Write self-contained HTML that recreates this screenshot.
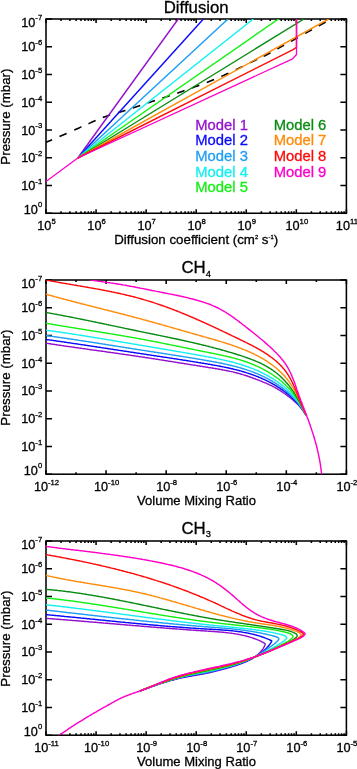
<!DOCTYPE html>
<html><head><meta charset="utf-8"><title>Diffusion models</title>
<style>
html,body{margin:0;padding:0;background:#fff;}
body{width:357px;height:769px;overflow:hidden;}
svg{display:block;will-change:transform;}
text{font-family:"Liberation Sans",sans-serif;stroke:#000;stroke-width:0.3px;}
.tk{font-size:12.7px;}
.sp{font-size:7.7px;}
.sp2{font-size:5.8px;}
.lb{font-size:13.3px;}
.tt{font-size:16.8px;}
.sb{font-size:9.3px;}
.lg{font-size:14.8px;}
</style></head><body>
<svg width="357" height="769" viewBox="0 0 357 769">
<rect width="100%" height="100%" fill="#fff"/>
<defs>
<clipPath id="c0"><rect x="46.00" y="19.00" width="300.40" height="194.25"/></clipPath>
<clipPath id="c1"><rect x="46.00" y="280.00" width="300.40" height="194.20"/></clipPath>
<clipPath id="c2"><rect x="46.00" y="541.00" width="300.40" height="194.20"/></clipPath>
</defs>
<path d="M46.00,213.25v-3.89 M46.00,19.00v3.89 M61.07,213.25v-1.94 M61.07,19.00v1.94 M69.89,213.25v-1.94 M69.89,19.00v1.94 M76.14,213.25v-1.94 M76.14,19.00v1.94 M81.00,213.25v-1.94 M81.00,19.00v1.94 M84.96,213.25v-1.94 M84.96,19.00v1.94 M88.31,213.25v-1.94 M88.31,19.00v1.94 M91.21,213.25v-1.94 M91.21,19.00v1.94 M93.78,213.25v-1.94 M93.78,19.00v1.94 M96.07,213.25v-3.89 M96.07,19.00v3.89 M111.14,213.25v-1.94 M111.14,19.00v1.94 M119.95,213.25v-1.94 M119.95,19.00v1.94 M126.21,213.25v-1.94 M126.21,19.00v1.94 M131.06,213.25v-1.94 M131.06,19.00v1.94 M135.03,213.25v-1.94 M135.03,19.00v1.94 M138.38,213.25v-1.94 M138.38,19.00v1.94 M141.28,213.25v-1.94 M141.28,19.00v1.94 M143.84,213.25v-1.94 M143.84,19.00v1.94 M146.13,213.25v-3.89 M146.13,19.00v3.89 M161.20,213.25v-1.94 M161.20,19.00v1.94 M170.02,213.25v-1.94 M170.02,19.00v1.94 M176.28,213.25v-1.94 M176.28,19.00v1.94 M181.13,213.25v-1.94 M181.13,19.00v1.94 M185.09,213.25v-1.94 M185.09,19.00v1.94 M188.44,213.25v-1.94 M188.44,19.00v1.94 M191.35,213.25v-1.94 M191.35,19.00v1.94 M193.91,213.25v-1.94 M193.91,19.00v1.94 M196.20,213.25v-3.89 M196.20,19.00v3.89 M211.27,213.25v-1.94 M211.27,19.00v1.94 M220.09,213.25v-1.94 M220.09,19.00v1.94 M226.34,213.25v-1.94 M226.34,19.00v1.94 M231.20,213.25v-1.94 M231.20,19.00v1.94 M235.16,213.25v-1.94 M235.16,19.00v1.94 M238.51,213.25v-1.94 M238.51,19.00v1.94 M241.41,213.25v-1.94 M241.41,19.00v1.94 M243.98,213.25v-1.94 M243.98,19.00v1.94 M246.27,213.25v-3.89 M246.27,19.00v3.89 M261.34,213.25v-1.94 M261.34,19.00v1.94 M270.15,213.25v-1.94 M270.15,19.00v1.94 M276.41,213.25v-1.94 M276.41,19.00v1.94 M281.26,213.25v-1.94 M281.26,19.00v1.94 M285.23,213.25v-1.94 M285.23,19.00v1.94 M288.58,213.25v-1.94 M288.58,19.00v1.94 M291.48,213.25v-1.94 M291.48,19.00v1.94 M294.04,213.25v-1.94 M294.04,19.00v1.94 M296.33,213.25v-3.89 M296.33,19.00v3.89 M311.40,213.25v-1.94 M311.40,19.00v1.94 M320.22,213.25v-1.94 M320.22,19.00v1.94 M326.48,213.25v-1.94 M326.48,19.00v1.94 M331.33,213.25v-1.94 M331.33,19.00v1.94 M335.29,213.25v-1.94 M335.29,19.00v1.94 M338.64,213.25v-1.94 M338.64,19.00v1.94 M341.55,213.25v-1.94 M341.55,19.00v1.94 M344.11,213.25v-1.94 M344.11,19.00v1.94 M346.40,213.25v-3.89 M346.40,19.00v3.89 M46.00,19.00h6.01 M346.40,19.00h-6.01 M46.00,46.75h6.01 M346.40,46.75h-6.01 M46.00,74.50h6.01 M346.40,74.50h-6.01 M46.00,102.25h6.01 M346.40,102.25h-6.01 M46.00,130.00h6.01 M346.40,130.00h-6.01 M46.00,157.75h6.01 M346.40,157.75h-6.01 M46.00,185.50h6.01 M346.40,185.50h-6.01 M46.00,213.25h6.01 M346.40,213.25h-6.01 " stroke="#000" stroke-width="1.55" fill="none"/>
<rect x="46.00" y="19.00" width="300.40" height="194.25" fill="none" stroke="#000" stroke-width="1.55"/>
<text x="46.50" y="230.15" class="tk" text-anchor="middle">10<tspan class="sp" dy="-6.2">5</tspan></text>
<text x="96.57" y="230.15" class="tk" text-anchor="middle">10<tspan class="sp" dy="-6.2">6</tspan></text>
<text x="146.63" y="230.15" class="tk" text-anchor="middle">10<tspan class="sp" dy="-6.2">7</tspan></text>
<text x="196.70" y="230.15" class="tk" text-anchor="middle">10<tspan class="sp" dy="-6.2">8</tspan></text>
<text x="246.77" y="230.15" class="tk" text-anchor="middle">10<tspan class="sp" dy="-6.2">9</tspan></text>
<text x="296.83" y="230.15" class="tk" text-anchor="middle">10<tspan class="sp" dy="-6.2">10</tspan></text>
<text x="346.90" y="230.15" class="tk" text-anchor="middle">10<tspan class="sp" dy="-6.2">11</tspan></text>
<text x="42.20" y="26.60" class="tk" text-anchor="end">10<tspan class="sp" dy="-6.2">-7</tspan></text>
<text x="42.20" y="51.25" class="tk" text-anchor="end">10<tspan class="sp" dy="-6.2">-6</tspan></text>
<text x="42.20" y="79.00" class="tk" text-anchor="end">10<tspan class="sp" dy="-6.2">-5</tspan></text>
<text x="42.20" y="106.75" class="tk" text-anchor="end">10<tspan class="sp" dy="-6.2">-4</tspan></text>
<text x="42.20" y="134.50" class="tk" text-anchor="end">10<tspan class="sp" dy="-6.2">-3</tspan></text>
<text x="42.20" y="162.25" class="tk" text-anchor="end">10<tspan class="sp" dy="-6.2">-2</tspan></text>
<text x="42.20" y="190.00" class="tk" text-anchor="end">10<tspan class="sp" dy="-6.2">-1</tspan></text>
<text x="42.20" y="213.65" class="tk" text-anchor="end">10<tspan class="sp" dy="-6.2">0</tspan></text>
<text transform="translate(9.6,116.62) rotate(-90)" class="lb" text-anchor="middle">Pressure (mbar)</text>
<path d="M46.00,474.20v-3.88 M46.00,280.00v3.88 M76.04,474.20v-1.94 M76.04,280.00v1.94 M106.08,474.20v-3.88 M106.08,280.00v3.88 M136.12,474.20v-1.94 M136.12,280.00v1.94 M166.16,474.20v-3.88 M166.16,280.00v3.88 M196.20,474.20v-1.94 M196.20,280.00v1.94 M226.24,474.20v-3.88 M226.24,280.00v3.88 M256.28,474.20v-1.94 M256.28,280.00v1.94 M286.32,474.20v-3.88 M286.32,280.00v3.88 M316.36,474.20v-1.94 M316.36,280.00v1.94 M346.40,474.20v-3.88 M346.40,280.00v3.88 M46.00,280.00h6.01 M346.40,280.00h-6.01 M46.00,307.74h6.01 M346.40,307.74h-6.01 M46.00,335.49h6.01 M346.40,335.49h-6.01 M46.00,363.23h6.01 M346.40,363.23h-6.01 M46.00,390.97h6.01 M346.40,390.97h-6.01 M46.00,418.71h6.01 M346.40,418.71h-6.01 M46.00,446.46h6.01 M346.40,446.46h-6.01 M46.00,474.20h6.01 M346.40,474.20h-6.01 " stroke="#000" stroke-width="1.55" fill="none"/>
<rect x="46.00" y="280.00" width="300.40" height="194.20" fill="none" stroke="#000" stroke-width="1.55"/>
<text x="46.50" y="491.10" class="tk" text-anchor="middle">10<tspan class="sp" dy="-6.2">-12</tspan></text>
<text x="106.58" y="491.10" class="tk" text-anchor="middle">10<tspan class="sp" dy="-6.2">-10</tspan></text>
<text x="166.66" y="491.10" class="tk" text-anchor="middle">10<tspan class="sp" dy="-6.2">-8</tspan></text>
<text x="226.74" y="491.10" class="tk" text-anchor="middle">10<tspan class="sp" dy="-6.2">-6</tspan></text>
<text x="286.82" y="491.10" class="tk" text-anchor="middle">10<tspan class="sp" dy="-6.2">-4</tspan></text>
<text x="346.90" y="491.10" class="tk" text-anchor="middle">10<tspan class="sp" dy="-6.2">-2</tspan></text>
<text x="42.20" y="287.60" class="tk" text-anchor="end">10<tspan class="sp" dy="-6.2">-7</tspan></text>
<text x="42.20" y="312.24" class="tk" text-anchor="end">10<tspan class="sp" dy="-6.2">-6</tspan></text>
<text x="42.20" y="339.99" class="tk" text-anchor="end">10<tspan class="sp" dy="-6.2">-5</tspan></text>
<text x="42.20" y="367.73" class="tk" text-anchor="end">10<tspan class="sp" dy="-6.2">-4</tspan></text>
<text x="42.20" y="395.47" class="tk" text-anchor="end">10<tspan class="sp" dy="-6.2">-3</tspan></text>
<text x="42.20" y="423.21" class="tk" text-anchor="end">10<tspan class="sp" dy="-6.2">-2</tspan></text>
<text x="42.20" y="450.96" class="tk" text-anchor="end">10<tspan class="sp" dy="-6.2">-1</tspan></text>
<text x="42.20" y="474.60" class="tk" text-anchor="end">10<tspan class="sp" dy="-6.2">0</tspan></text>
<text transform="translate(9.6,377.60) rotate(-90)" class="lb" text-anchor="middle">Pressure (mbar)</text>
<path d="M46.00,735.20v-3.88 M46.00,541.00v3.88 M61.07,735.20v-1.94 M61.07,541.00v1.94 M69.89,735.20v-1.94 M69.89,541.00v1.94 M76.14,735.20v-1.94 M76.14,541.00v1.94 M81.00,735.20v-1.94 M81.00,541.00v1.94 M84.96,735.20v-1.94 M84.96,541.00v1.94 M88.31,735.20v-1.94 M88.31,541.00v1.94 M91.21,735.20v-1.94 M91.21,541.00v1.94 M93.78,735.20v-1.94 M93.78,541.00v1.94 M96.07,735.20v-3.88 M96.07,541.00v3.88 M111.14,735.20v-1.94 M111.14,541.00v1.94 M119.95,735.20v-1.94 M119.95,541.00v1.94 M126.21,735.20v-1.94 M126.21,541.00v1.94 M131.06,735.20v-1.94 M131.06,541.00v1.94 M135.03,735.20v-1.94 M135.03,541.00v1.94 M138.38,735.20v-1.94 M138.38,541.00v1.94 M141.28,735.20v-1.94 M141.28,541.00v1.94 M143.84,735.20v-1.94 M143.84,541.00v1.94 M146.13,735.20v-3.88 M146.13,541.00v3.88 M161.20,735.20v-1.94 M161.20,541.00v1.94 M170.02,735.20v-1.94 M170.02,541.00v1.94 M176.28,735.20v-1.94 M176.28,541.00v1.94 M181.13,735.20v-1.94 M181.13,541.00v1.94 M185.09,735.20v-1.94 M185.09,541.00v1.94 M188.44,735.20v-1.94 M188.44,541.00v1.94 M191.35,735.20v-1.94 M191.35,541.00v1.94 M193.91,735.20v-1.94 M193.91,541.00v1.94 M196.20,735.20v-3.88 M196.20,541.00v3.88 M211.27,735.20v-1.94 M211.27,541.00v1.94 M220.09,735.20v-1.94 M220.09,541.00v1.94 M226.34,735.20v-1.94 M226.34,541.00v1.94 M231.20,735.20v-1.94 M231.20,541.00v1.94 M235.16,735.20v-1.94 M235.16,541.00v1.94 M238.51,735.20v-1.94 M238.51,541.00v1.94 M241.41,735.20v-1.94 M241.41,541.00v1.94 M243.98,735.20v-1.94 M243.98,541.00v1.94 M246.27,735.20v-3.88 M246.27,541.00v3.88 M261.34,735.20v-1.94 M261.34,541.00v1.94 M270.15,735.20v-1.94 M270.15,541.00v1.94 M276.41,735.20v-1.94 M276.41,541.00v1.94 M281.26,735.20v-1.94 M281.26,541.00v1.94 M285.23,735.20v-1.94 M285.23,541.00v1.94 M288.58,735.20v-1.94 M288.58,541.00v1.94 M291.48,735.20v-1.94 M291.48,541.00v1.94 M294.04,735.20v-1.94 M294.04,541.00v1.94 M296.33,735.20v-3.88 M296.33,541.00v3.88 M311.40,735.20v-1.94 M311.40,541.00v1.94 M320.22,735.20v-1.94 M320.22,541.00v1.94 M326.48,735.20v-1.94 M326.48,541.00v1.94 M331.33,735.20v-1.94 M331.33,541.00v1.94 M335.29,735.20v-1.94 M335.29,541.00v1.94 M338.64,735.20v-1.94 M338.64,541.00v1.94 M341.55,735.20v-1.94 M341.55,541.00v1.94 M344.11,735.20v-1.94 M344.11,541.00v1.94 M346.40,735.20v-3.88 M346.40,541.00v3.88 M46.00,541.00h6.01 M346.40,541.00h-6.01 M46.00,568.74h6.01 M346.40,568.74h-6.01 M46.00,596.49h6.01 M346.40,596.49h-6.01 M46.00,624.23h6.01 M346.40,624.23h-6.01 M46.00,651.97h6.01 M346.40,651.97h-6.01 M46.00,679.71h6.01 M346.40,679.71h-6.01 M46.00,707.46h6.01 M346.40,707.46h-6.01 M46.00,735.20h6.01 M346.40,735.20h-6.01 " stroke="#000" stroke-width="1.55" fill="none"/>
<rect x="46.00" y="541.00" width="300.40" height="194.20" fill="none" stroke="#000" stroke-width="1.55"/>
<text x="46.50" y="752.10" class="tk" text-anchor="middle">10<tspan class="sp" dy="-6.2">-11</tspan></text>
<text x="96.57" y="752.10" class="tk" text-anchor="middle">10<tspan class="sp" dy="-6.2">-10</tspan></text>
<text x="146.63" y="752.10" class="tk" text-anchor="middle">10<tspan class="sp" dy="-6.2">-9</tspan></text>
<text x="196.70" y="752.10" class="tk" text-anchor="middle">10<tspan class="sp" dy="-6.2">-8</tspan></text>
<text x="246.77" y="752.10" class="tk" text-anchor="middle">10<tspan class="sp" dy="-6.2">-7</tspan></text>
<text x="296.83" y="752.10" class="tk" text-anchor="middle">10<tspan class="sp" dy="-6.2">-6</tspan></text>
<text x="346.90" y="752.10" class="tk" text-anchor="middle">10<tspan class="sp" dy="-6.2">-5</tspan></text>
<text x="42.20" y="548.60" class="tk" text-anchor="end">10<tspan class="sp" dy="-6.2">-7</tspan></text>
<text x="42.20" y="573.24" class="tk" text-anchor="end">10<tspan class="sp" dy="-6.2">-6</tspan></text>
<text x="42.20" y="600.99" class="tk" text-anchor="end">10<tspan class="sp" dy="-6.2">-5</tspan></text>
<text x="42.20" y="628.73" class="tk" text-anchor="end">10<tspan class="sp" dy="-6.2">-4</tspan></text>
<text x="42.20" y="656.47" class="tk" text-anchor="end">10<tspan class="sp" dy="-6.2">-3</tspan></text>
<text x="42.20" y="684.21" class="tk" text-anchor="end">10<tspan class="sp" dy="-6.2">-2</tspan></text>
<text x="42.20" y="711.96" class="tk" text-anchor="end">10<tspan class="sp" dy="-6.2">-1</tspan></text>
<text x="42.20" y="735.60" class="tk" text-anchor="end">10<tspan class="sp" dy="-6.2">0</tspan></text>
<text transform="translate(9.6,638.60) rotate(-90)" class="lb" text-anchor="middle">Pressure (mbar)</text>
<path d="M44.90,142.74 46.11,142.26 47.31,141.76 48.51,141.27 49.71,140.76 50.91,140.26 52.10,139.75 M59.50,136.58 60.69,136.06 61.89,135.54 63.08,135.03 64.27,134.51 65.46,133.99 66.65,133.47 M74.30,130.08 75.48,129.54 76.67,129.00 77.85,128.46 79.03,127.92 80.21,127.38 81.40,126.84 M88.50,123.65 89.69,123.13 90.89,122.62 92.08,122.10 93.27,121.59 94.47,121.07 95.66,120.56 M102.80,117.58 104.01,117.11 105.23,116.65 106.45,116.20 107.67,115.77 108.90,115.35 110.14,114.95 M118.00,112.66 119.25,112.30 120.50,111.94 121.74,111.56 122.98,111.17 124.22,110.78 125.46,110.38 M132.80,107.97 134.03,107.56 135.27,107.15 136.50,106.74 137.73,106.32 138.96,105.91 140.19,105.49 M147.60,103.00 148.83,102.59 150.07,102.18 151.30,101.77 152.53,101.36 153.77,100.95 155.00,100.54 M162.40,98.12 163.64,97.71 164.87,97.31 166.10,96.90 167.34,96.49 168.57,96.08 169.81,95.67 M177.20,93.17 178.43,92.75 179.66,92.32 180.88,91.89 182.11,91.46 183.33,91.02 184.56,90.59 M192.00,87.92 193.22,87.47 194.44,87.03 195.66,86.58 196.88,86.13 198.10,85.68 199.32,85.22 M206.80,82.38 208.01,81.91 209.22,81.43 210.43,80.95 211.64,80.47 212.84,79.98 214.04,79.49 M221.30,76.41 222.49,75.89 223.68,75.36 224.87,74.84 226.06,74.30 227.24,73.77 228.42,73.23 M235.80,69.75 236.97,69.19 238.15,68.63 239.32,68.06 240.49,67.50 241.65,66.93 242.82,66.35 M250.20,62.72 251.37,62.15 252.54,61.58 253.71,61.01 254.88,60.45 256.05,59.89 257.23,59.34 M263.60,56.32 264.77,55.74 265.93,55.16 267.08,54.56 268.23,53.95 269.38,53.34 270.52,52.72 M277.30,48.90 278.43,48.26 279.57,47.62 280.70,46.99 281.84,46.36 282.98,45.73 284.11,45.11 M290.90,41.34 292.04,40.71 293.17,40.08 294.31,39.45 295.45,38.82 296.59,38.19 297.72,37.56 M305.20,33.42 306.34,32.79 307.47,32.16 308.61,31.53 309.75,30.90 310.89,30.27 312.02,29.64 M318.80,25.88 319.94,25.25 321.07,24.62 322.21,23.99 323.35,23.36 324.49,22.73 325.62,22.10 M332.80,18.12 333.94,17.49 335.07,16.86 336.21,16.23 337.35,15.60 338.49,14.97 339.62,14.34 " stroke="#000" stroke-width="1.60" fill="none" stroke-linejoin="round" clip-path="url(#c0)" />
<path d="M77.80,158.00 L178.20,19.00" stroke="#9410CE" stroke-width="1.45" fill="none" stroke-linejoin="round" clip-path="url(#c0)" />
<path d="M77.80,158.00 L203.40,19.00" stroke="#0A0AFF" stroke-width="1.45" fill="none" stroke-linejoin="round" clip-path="url(#c0)" />
<path d="M77.80,158.00 L228.00,19.00" stroke="#1E9EF5" stroke-width="1.45" fill="none" stroke-linejoin="round" clip-path="url(#c0)" />
<path d="M77.80,158.00 L253.30,19.00" stroke="#14F0F0" stroke-width="1.45" fill="none" stroke-linejoin="round" clip-path="url(#c0)" />
<path d="M77.80,158.00 L278.50,19.00" stroke="#14F014" stroke-width="1.45" fill="none" stroke-linejoin="round" clip-path="url(#c0)" />
<path d="M77.80,158.00 L304.00,19.00" stroke="#0A8C14" stroke-width="1.45" fill="none" stroke-linejoin="round" clip-path="url(#c0)" />
<path d="M77.80,158.00 L328.60,19.00" stroke="#FF8C0A" stroke-width="1.45" fill="none" stroke-linejoin="round" clip-path="url(#c0)" />
<path d="M77.80,158.00 L292.60,49.78 L296.50,47.30 L296.50,19.00" stroke="#FF0A0A" stroke-width="1.45" fill="none" stroke-linejoin="round" clip-path="url(#c0)" />
<path d="M45.50,181.85 L77.80,158.00 L292.60,58.81 L296.50,54.50 L296.50,18.00" stroke="#FF00C8" stroke-width="1.30" fill="none" stroke-linejoin="round" clip-path="url(#c0)" />
<path d="M40.0,342.2 40.7,342.3 41.5,342.5 42.2,342.6 43.0,342.7 43.7,342.8 44.5,342.9 45.2,343.0 46.0,343.2 46.7,343.3 47.4,343.4 48.2,343.5 48.9,343.6 49.7,343.7 50.4,343.8 51.2,344.0 51.9,344.1 52.7,344.2 53.4,344.3 54.1,344.4 54.9,344.5 55.6,344.6 56.4,344.7 57.1,344.9 57.9,345.0 58.6,345.1 59.4,345.2 60.1,345.3 60.9,345.4 61.6,345.5 62.3,345.6 63.1,345.7 63.8,345.8 64.6,346.0 65.3,346.1 66.1,346.2 66.8,346.3 67.6,346.4 68.3,346.5 69.1,346.6 69.8,346.7 70.5,346.8 71.3,346.9 72.0,347.0 72.8,347.1 73.5,347.2 74.3,347.3 75.0,347.5 75.8,347.6 76.5,347.7 77.3,347.8 78.0,347.9 78.8,348.0 79.5,348.1 80.2,348.2 81.0,348.3 81.7,348.4 82.5,348.5 83.2,348.6 84.0,348.7 84.7,348.8 85.5,348.9 86.2,349.0 87.0,349.1 87.7,349.2 88.4,349.4 89.2,349.5 89.9,349.6 90.7,349.7 91.4,349.8 92.2,349.9 92.9,350.0 93.7,350.1 94.4,350.2 95.2,350.3 95.9,350.4 96.7,350.5 97.4,350.6 98.1,350.7 98.9,350.8 99.6,350.9 100.4,351.0 101.1,351.1 101.9,351.2 102.6,351.3 103.4,351.4 104.1,351.5 104.9,351.6 105.6,351.7 106.4,351.9 107.1,352.0 107.8,352.1 108.6,352.2 109.3,352.3 110.1,352.4 110.8,352.5 111.6,352.6 112.3,352.7 113.1,352.8 113.8,352.9 114.6,353.0 115.3,353.1 116.1,353.2 116.8,353.3 117.5,353.4 118.3,353.5 119.0,353.6 119.8,353.7 120.5,353.9 121.3,354.0 122.0,354.1 122.8,354.2 123.5,354.3 124.3,354.4 125.0,354.5 125.8,354.6 126.5,354.7 127.2,354.8 128.0,354.9 128.7,355.0 129.5,355.1 130.2,355.2 131.0,355.4 131.7,355.5 132.5,355.6 133.2,355.7 134.0,355.8 134.7,355.9 135.4,356.0 136.2,356.1 136.9,356.2 137.7,356.3 138.4,356.5 139.2,356.6 139.9,356.7 140.7,356.8 141.4,356.9 142.2,357.0 142.9,357.1 143.6,357.2 144.4,357.3 145.1,357.5 145.9,357.6 146.6,357.7 147.4,357.8 148.1,357.9 148.9,358.0 149.6,358.1 150.4,358.3 151.1,358.4 151.8,358.5 152.6,358.6 153.3,358.7 154.1,358.8 154.8,358.9 155.6,359.1 156.3,359.2 157.1,359.3 157.8,359.4 158.5,359.5 159.3,359.6 160.0,359.8 160.8,359.9 161.5,360.0 162.3,360.1 163.0,360.2 163.8,360.3 164.5,360.5 165.2,360.6 166.0,360.7 166.7,360.8 167.5,360.9 168.2,361.1 169.0,361.2 169.7,361.3 170.5,361.4 171.2,361.5 171.9,361.6 172.7,361.8 173.4,361.9 174.2,362.0 174.9,362.1 175.7,362.2 176.4,362.4 177.2,362.5 177.9,362.6 178.6,362.7 179.4,362.8 180.1,363.0 180.9,363.1 181.6,363.2 182.4,363.3 183.1,363.4 183.8,363.5 184.6,363.7 185.3,363.8 186.1,363.9 186.8,364.0 187.6,364.1 188.3,364.3 189.1,364.4 189.8,364.5 190.5,364.6 191.3,364.7 192.0,364.9 192.8,365.0 193.5,365.1 194.3,365.2 195.0,365.3 195.8,365.4 196.5,365.6 197.2,365.7 198.0,365.8 198.7,365.9 199.5,366.0 200.2,366.2 201.0,366.3 201.7,366.4 202.4,366.5 203.2,366.6 203.9,366.7 204.7,366.9 205.4,367.0 206.2,367.1 206.9,367.2 207.7,367.3 208.4,367.5 209.1,367.6 209.9,367.7 210.6,367.8 211.4,367.9 212.1,368.0 212.9,368.2 213.6,368.3 214.3,368.4 215.1,368.5 215.8,368.7 216.6,368.8 217.3,368.9 218.1,369.0 218.8,369.2 219.5,369.3 220.3,369.4 221.0,369.5 221.8,369.7 222.5,369.8 223.2,370.0 224.0,370.1 224.7,370.2 225.4,370.4 226.2,370.5 226.9,370.7 227.6,370.8 228.4,371.0 229.1,371.1 229.8,371.3 230.6,371.4 231.3,371.6 232.0,371.8 232.8,371.9 233.5,372.1 234.2,372.3 234.9,372.5 235.7,372.6 236.4,372.8 237.1,373.0 237.8,373.2 238.6,373.4 239.3,373.6 240.0,373.8 240.7,374.0 241.4,374.2 242.2,374.4 242.9,374.6 243.6,374.9 244.3,375.1 245.0,375.3 245.7,375.5 246.4,375.8 247.2,376.0 247.9,376.2 248.6,376.5 249.3,376.7 250.0,377.0 250.7,377.2 251.4,377.5 252.1,377.7 252.8,378.0 253.5,378.2 254.2,378.5 254.9,378.8 255.6,379.0 256.3,379.3 257.0,379.6 257.7,379.8 258.4,380.1 259.1,380.4 259.8,380.7 260.5,380.9 261.2,381.2 261.9,381.5 262.6,381.8 263.3,382.1 264.0,382.4 264.7,382.7 265.4,382.9 266.1,383.2 266.8,383.5 267.5,383.8 268.2,384.1 268.9,384.4 269.6,384.8 270.2,385.1 270.9,385.4 271.6,385.7 272.3,386.1 272.9,386.4 273.6,386.8 274.3,387.1 274.9,387.5 275.6,387.9 276.2,388.2 276.9,388.6 277.5,389.0 278.2,389.4 278.8,389.8 279.4,390.1 280.1,390.5 280.7,390.9 281.3,391.4 282.0,391.8 282.6,392.2 283.2,392.6 283.8,393.0 284.5,393.5 285.1,393.9 285.7,394.3 286.3,394.8 286.9,395.2 287.5,395.7 288.1,396.1 288.7,396.6 289.3,397.0 289.9,397.5 290.5,398.0 291.1,398.5 291.7,398.9 292.3,399.4 292.9,399.9 293.5,400.4 294.0,400.9 294.6,401.4 295.2,401.9 295.7,402.4 296.3,402.9 296.8,403.4 297.4,404.0 297.9,404.5 298.4,405.0 299.0,405.6 299.5,406.1 300.0,406.7 300.5,407.3 301.0,407.8 301.4,408.4 301.9,409.0 302.4,409.6 302.8,410.2 303.3,410.8 303.7,411.4 304.1,412.0 304.5,412.6 304.9,413.3 305.3,413.9 305.7,414.6 306.0,415.2" stroke="#9410CE" stroke-width="1.45" fill="none" stroke-linejoin="round" clip-path="url(#c1)" />
<path d="M40.0,338.6 40.7,338.7 41.5,338.8 42.2,338.9 43.0,339.0 43.7,339.1 44.5,339.2 45.3,339.3 46.0,339.4 46.8,339.6 47.5,339.7 48.3,339.8 49.0,339.9 49.8,340.0 50.5,340.1 51.3,340.2 52.0,340.3 52.8,340.4 53.5,340.5 54.3,340.6 55.0,340.7 55.8,340.8 56.5,341.0 57.3,341.1 58.0,341.2 58.8,341.3 59.5,341.4 60.3,341.5 61.0,341.6 61.8,341.7 62.5,341.8 63.3,341.9 64.0,342.0 64.8,342.2 65.5,342.3 66.3,342.4 67.0,342.5 67.8,342.6 68.5,342.7 69.3,342.8 70.0,342.9 70.8,343.0 71.5,343.1 72.3,343.3 73.0,343.4 73.8,343.5 74.5,343.6 75.3,343.7 76.0,343.8 76.8,343.9 77.5,344.0 78.3,344.1 79.0,344.3 79.8,344.4 80.5,344.5 81.3,344.6 82.0,344.7 82.8,344.8 83.5,344.9 84.3,345.0 85.0,345.2 85.8,345.3 86.5,345.4 87.3,345.5 88.0,345.6 88.8,345.7 89.5,345.8 90.3,345.9 91.0,346.1 91.8,346.2 92.5,346.3 93.3,346.4 94.0,346.5 94.8,346.6 95.5,346.7 96.3,346.8 97.0,347.0 97.8,347.1 98.5,347.2 99.3,347.3 100.0,347.4 100.8,347.5 101.5,347.6 102.3,347.8 103.0,347.9 103.8,348.0 104.5,348.1 105.3,348.2 106.0,348.3 106.8,348.4 107.5,348.5 108.3,348.7 109.0,348.8 109.8,348.9 110.5,349.0 111.3,349.1 112.0,349.2 112.7,349.3 113.5,349.5 114.2,349.6 115.0,349.7 115.7,349.8 116.5,349.9 117.2,350.0 118.0,350.1 118.7,350.3 119.5,350.4 120.2,350.5 121.0,350.6 121.7,350.7 122.5,350.8 123.2,350.9 124.0,351.1 124.7,351.2 125.5,351.3 126.2,351.4 127.0,351.5 127.7,351.6 128.5,351.7 129.2,351.9 130.0,352.0 130.7,352.1 131.5,352.2 132.2,352.3 133.0,352.4 133.7,352.5 134.5,352.7 135.2,352.8 136.0,352.9 136.7,353.0 137.5,353.1 138.2,353.2 139.0,353.3 139.7,353.4 140.5,353.6 141.2,353.7 142.0,353.8 142.7,353.9 143.5,354.0 144.2,354.1 145.0,354.2 145.7,354.4 146.5,354.5 147.2,354.6 148.0,354.7 148.7,354.8 149.5,354.9 150.2,355.0 151.0,355.1 151.7,355.3 152.5,355.4 153.2,355.5 154.0,355.6 154.7,355.7 155.5,355.8 156.2,355.9 157.0,356.1 157.7,356.2 158.5,356.3 159.2,356.4 160.0,356.5 160.7,356.6 161.5,356.7 162.2,356.8 163.0,357.0 163.7,357.1 164.5,357.2 165.2,357.3 166.0,357.4 166.7,357.5 167.5,357.6 168.2,357.8 169.0,357.9 169.7,358.0 170.5,358.1 171.2,358.2 172.0,358.3 172.7,358.4 173.5,358.6 174.2,358.7 175.0,358.8 175.7,358.9 176.5,359.0 177.2,359.1 178.0,359.3 178.7,359.4 179.5,359.5 180.2,359.6 181.0,359.7 181.7,359.8 182.5,360.0 183.2,360.1 184.0,360.2 184.7,360.3 185.5,360.4 186.2,360.5 187.0,360.7 187.7,360.8 188.5,360.9 189.2,361.0 189.9,361.1 190.7,361.3 191.4,361.4 192.2,361.5 192.9,361.6 193.7,361.7 194.4,361.9 195.2,362.0 195.9,362.1 196.7,362.2 197.4,362.3 198.2,362.5 198.9,362.6 199.7,362.7 200.4,362.8 201.1,363.0 201.9,363.1 202.6,363.2 203.4,363.3 204.1,363.4 204.9,363.6 205.6,363.7 206.4,363.8 207.1,363.9 207.9,364.1 208.6,364.2 209.3,364.3 210.1,364.4 210.8,364.6 211.6,364.7 212.3,364.8 213.1,365.0 213.8,365.1 214.5,365.2 215.3,365.4 216.0,365.5 216.8,365.6 217.5,365.8 218.3,365.9 219.0,366.0 219.7,366.2 220.5,366.3 221.2,366.5 222.0,366.6 222.7,366.8 223.4,366.9 224.2,367.1 224.9,367.2 225.7,367.4 226.4,367.5 227.1,367.7 227.9,367.8 228.6,368.0 229.4,368.2 230.1,368.3 230.8,368.5 231.6,368.7 232.3,368.8 233.0,369.0 233.8,369.2 234.5,369.4 235.2,369.6 236.0,369.7 236.7,369.9 237.4,370.1 238.2,370.3 238.9,370.5 239.6,370.7 240.4,370.9 241.1,371.1 241.8,371.3 242.6,371.5 243.3,371.7 244.0,372.0 244.8,372.2 245.5,372.4 246.2,372.6 246.9,372.9 247.7,373.1 248.4,373.3 249.1,373.6 249.8,373.8 250.6,374.1 251.3,374.3 252.0,374.6 252.7,374.8 253.4,375.1 254.2,375.3 254.9,375.6 255.6,375.9 256.3,376.2 257.0,376.4 257.7,376.7 258.4,377.0 259.1,377.3 259.8,377.6 260.5,377.9 261.2,378.2 261.9,378.5 262.6,378.8 263.3,379.1 264.0,379.4 264.7,379.7 265.4,380.1 266.1,380.4 266.7,380.7 267.4,381.1 268.1,381.4 268.8,381.7 269.5,382.1 270.1,382.4 270.8,382.8 271.5,383.2 272.1,383.5 272.8,383.9 273.4,384.3 274.1,384.6 274.8,385.0 275.4,385.4 276.1,385.8 276.7,386.2 277.3,386.6 278.0,387.0 278.6,387.4 279.2,387.8 279.9,388.2 280.5,388.6 281.1,389.1 281.7,389.5 282.4,389.9 283.0,390.4 283.6,390.8 284.2,391.3 284.8,391.7 285.4,392.2 286.0,392.6 286.6,393.1 287.2,393.6 287.7,394.0 288.3,394.5 288.9,395.0 289.5,395.5 290.0,396.0 290.6,396.5 291.2,397.0 291.7,397.5 292.3,398.0 292.8,398.6 293.4,399.1 293.9,399.6 294.4,400.2 294.9,400.7 295.5,401.2 296.0,401.8 296.5,402.3 297.0,402.9 297.5,403.5 298.0,404.0 298.5,404.6 299.0,405.2 299.5,405.8 299.9,406.4 300.4,407.0 300.9,407.6 301.3,408.2 301.8,408.8 302.2,409.4 302.6,410.0 303.1,410.6 303.5,411.2 303.9,411.9 304.3,412.5 304.7,413.1 305.1,413.8 305.5,414.4 305.9,415.1" stroke="#0A0AFF" stroke-width="1.45" fill="none" stroke-linejoin="round" clip-path="url(#c1)" />
<path d="M40.0,334.7 40.8,334.8 41.5,334.9 42.3,335.0 43.0,335.1 43.8,335.2 44.5,335.3 45.3,335.4 46.0,335.5 46.8,335.6 47.6,335.7 48.3,335.9 49.1,336.0 49.8,336.1 50.6,336.2 51.3,336.3 52.1,336.4 52.8,336.5 53.6,336.6 54.4,336.7 55.1,336.8 55.9,336.9 56.6,337.0 57.4,337.1 58.1,337.2 58.9,337.3 59.6,337.4 60.4,337.6 61.2,337.7 61.9,337.8 62.7,337.9 63.4,338.0 64.2,338.1 64.9,338.2 65.7,338.3 66.4,338.4 67.2,338.5 67.9,338.7 68.7,338.8 69.5,338.9 70.2,339.0 71.0,339.1 71.7,339.2 72.5,339.3 73.2,339.4 74.0,339.6 74.7,339.7 75.5,339.8 76.3,339.9 77.0,340.0 77.8,340.1 78.5,340.2 79.3,340.4 80.0,340.5 80.8,340.6 81.5,340.7 82.3,340.8 83.1,340.9 83.8,341.0 84.6,341.2 85.3,341.3 86.1,341.4 86.8,341.5 87.6,341.6 88.3,341.7 89.1,341.9 89.9,342.0 90.6,342.1 91.4,342.2 92.1,342.3 92.9,342.4 93.6,342.6 94.4,342.7 95.1,342.8 95.9,342.9 96.7,343.0 97.4,343.2 98.2,343.3 98.9,343.4 99.7,343.5 100.4,343.6 101.2,343.7 101.9,343.9 102.7,344.0 103.4,344.1 104.2,344.2 105.0,344.3 105.7,344.5 106.5,344.6 107.2,344.7 108.0,344.8 108.7,344.9 109.5,345.1 110.2,345.2 111.0,345.3 111.8,345.4 112.5,345.5 113.3,345.7 114.0,345.8 114.8,345.9 115.5,346.0 116.3,346.1 117.0,346.3 117.8,346.4 118.5,346.5 119.3,346.6 120.1,346.7 120.8,346.9 121.6,347.0 122.3,347.1 123.1,347.2 123.8,347.3 124.6,347.4 125.3,347.6 126.1,347.7 126.8,347.8 127.6,347.9 128.4,348.0 129.1,348.2 129.9,348.3 130.6,348.4 131.4,348.5 132.1,348.6 132.9,348.8 133.6,348.9 134.4,349.0 135.1,349.1 135.9,349.2 136.6,349.4 137.4,349.5 138.2,349.6 138.9,349.7 139.7,349.8 140.4,349.9 141.2,350.1 141.9,350.2 142.7,350.3 143.4,350.4 144.2,350.5 144.9,350.6 145.7,350.8 146.4,350.9 147.2,351.0 148.0,351.1 148.7,351.2 149.5,351.3 150.2,351.5 151.0,351.6 151.7,351.7 152.5,351.8 153.2,351.9 154.0,352.0 154.7,352.2 155.5,352.3 156.2,352.4 157.0,352.5 157.7,352.6 158.5,352.7 159.3,352.9 160.0,353.0 160.8,353.1 161.5,353.2 162.3,353.3 163.0,353.4 163.8,353.6 164.5,353.7 165.3,353.8 166.0,353.9 166.8,354.0 167.5,354.1 168.3,354.3 169.0,354.4 169.8,354.5 170.5,354.6 171.3,354.7 172.1,354.9 172.8,355.0 173.6,355.1 174.3,355.2 175.1,355.3 175.8,355.4 176.6,355.6 177.3,355.7 178.1,355.8 178.8,355.9 179.6,356.0 180.3,356.2 181.1,356.3 181.8,356.4 182.6,356.5 183.3,356.6 184.1,356.8 184.8,356.9 185.6,357.0 186.3,357.1 187.1,357.2 187.9,357.4 188.6,357.5 189.4,357.6 190.1,357.7 190.9,357.9 191.6,358.0 192.4,358.1 193.1,358.2 193.9,358.4 194.6,358.5 195.4,358.6 196.1,358.7 196.9,358.9 197.6,359.0 198.4,359.1 199.1,359.2 199.9,359.4 200.6,359.5 201.4,359.6 202.1,359.7 202.9,359.9 203.6,360.0 204.4,360.1 205.1,360.3 205.9,360.4 206.7,360.5 207.4,360.7 208.2,360.8 208.9,360.9 209.7,361.1 210.4,361.2 211.2,361.3 211.9,361.5 212.7,361.6 213.4,361.7 214.2,361.9 214.9,362.0 215.7,362.2 216.4,362.3 217.2,362.4 217.9,362.6 218.7,362.7 219.4,362.9 220.2,363.0 220.9,363.2 221.7,363.3 222.4,363.5 223.2,363.6 223.9,363.8 224.7,364.0 225.4,364.1 226.1,364.3 226.9,364.4 227.6,364.6 228.4,364.8 229.1,365.0 229.9,365.1 230.6,365.3 231.4,365.5 232.1,365.7 232.8,365.9 233.6,366.0 234.3,366.2 235.1,366.4 235.8,366.6 236.5,366.8 237.3,367.0 238.0,367.2 238.8,367.4 239.5,367.6 240.2,367.8 241.0,368.1 241.7,368.3 242.4,368.5 243.2,368.7 243.9,368.9 244.6,369.2 245.4,369.4 246.1,369.7 246.8,369.9 247.5,370.1 248.3,370.4 249.0,370.6 249.7,370.9 250.4,371.1 251.2,371.4 251.9,371.7 252.6,371.9 253.3,372.2 254.0,372.5 254.7,372.8 255.5,373.1 256.2,373.3 256.9,373.6 257.6,373.9 258.3,374.2 259.0,374.5 259.7,374.8 260.4,375.1 261.1,375.5 261.8,375.8 262.5,376.1 263.2,376.4 263.8,376.7 264.5,377.1 265.2,377.4 265.9,377.8 266.6,378.1 267.3,378.4 267.9,378.8 268.6,379.2 269.3,379.5 269.9,379.9 270.6,380.3 271.3,380.6 271.9,381.0 272.6,381.4 273.2,381.8 273.9,382.2 274.5,382.6 275.2,383.0 275.8,383.4 276.4,383.8 277.1,384.2 277.7,384.6 278.3,385.0 279.0,385.5 279.6,385.9 280.2,386.3 280.8,386.8 281.4,387.2 282.0,387.7 282.6,388.1 283.2,388.6 283.8,389.0 284.4,389.5 285.0,390.0 285.6,390.5 286.2,390.9 286.7,391.4 287.3,391.9 287.9,392.4 288.4,392.9 289.0,393.4 289.6,393.9 290.1,394.5 290.7,395.0 291.2,395.5 291.7,396.1 292.3,396.6 292.8,397.1 293.3,397.7 293.8,398.2 294.4,398.8 294.9,399.4 295.4,399.9 295.9,400.5 296.4,401.1 296.9,401.6 297.3,402.2 297.8,402.8 298.3,403.4 298.8,404.0 299.2,404.6 299.7,405.2 300.1,405.8 300.6,406.5 301.0,407.1 301.5,407.7 301.9,408.3 302.3,409.0 302.7,409.6 303.2,410.3 303.6,410.9 304.0,411.6 304.4,412.2 304.8,412.9 305.1,413.5 305.5,414.2 305.9,414.9" stroke="#1E9EF5" stroke-width="1.45" fill="none" stroke-linejoin="round" clip-path="url(#c1)" />
<path d="M40.0,329.3 40.8,329.4 41.5,329.5 42.3,329.6 43.0,329.7 43.8,329.8 44.6,329.9 45.3,330.0 46.1,330.1 46.9,330.3 47.6,330.4 48.4,330.5 49.1,330.6 49.9,330.7 50.7,330.8 51.4,330.9 52.2,331.0 53.0,331.1 53.7,331.2 54.5,331.3 55.2,331.4 56.0,331.6 56.8,331.7 57.5,331.8 58.3,331.9 59.0,332.0 59.8,332.1 60.6,332.2 61.3,332.3 62.1,332.4 62.9,332.6 63.6,332.7 64.4,332.8 65.1,332.9 65.9,333.0 66.7,333.1 67.4,333.2 68.2,333.4 68.9,333.5 69.7,333.6 70.5,333.7 71.2,333.8 72.0,333.9 72.8,334.1 73.5,334.2 74.3,334.3 75.0,334.4 75.8,334.5 76.6,334.6 77.3,334.8 78.1,334.9 78.8,335.0 79.6,335.1 80.4,335.2 81.1,335.4 81.9,335.5 82.7,335.6 83.4,335.7 84.2,335.8 84.9,336.0 85.7,336.1 86.5,336.2 87.2,336.3 88.0,336.5 88.7,336.6 89.5,336.7 90.3,336.8 91.0,336.9 91.8,337.1 92.6,337.2 93.3,337.3 94.1,337.4 94.8,337.6 95.6,337.7 96.4,337.8 97.1,337.9 97.9,338.1 98.6,338.2 99.4,338.3 100.2,338.4 100.9,338.6 101.7,338.7 102.4,338.8 103.2,338.9 104.0,339.1 104.7,339.2 105.5,339.3 106.2,339.4 107.0,339.6 107.8,339.7 108.5,339.8 109.3,339.9 110.1,340.1 110.8,340.2 111.6,340.3 112.3,340.5 113.1,340.6 113.9,340.7 114.6,340.8 115.4,341.0 116.1,341.1 116.9,341.2 117.7,341.3 118.4,341.5 119.2,341.6 119.9,341.7 120.7,341.9 121.5,342.0 122.2,342.1 123.0,342.2 123.7,342.4 124.5,342.5 125.2,342.6 126.0,342.7 126.8,342.9 127.5,343.0 128.3,343.1 129.0,343.3 129.8,343.4 130.6,343.5 131.3,343.6 132.1,343.8 132.8,343.9 133.6,344.0 134.4,344.2 135.1,344.3 135.9,344.4 136.6,344.5 137.4,344.7 138.2,344.8 138.9,344.9 139.7,345.1 140.4,345.2 141.2,345.3 141.9,345.4 142.7,345.6 143.5,345.7 144.2,345.8 145.0,345.9 145.7,346.1 146.5,346.2 147.3,346.3 148.0,346.5 148.8,346.6 149.5,346.7 150.3,346.8 151.0,347.0 151.8,347.1 152.6,347.2 153.3,347.4 154.1,347.5 154.8,347.6 155.6,347.7 156.3,347.9 157.1,348.0 157.9,348.1 158.6,348.3 159.4,348.4 160.1,348.5 160.9,348.6 161.7,348.8 162.4,348.9 163.2,349.0 163.9,349.2 164.7,349.3 165.4,349.4 166.2,349.5 167.0,349.7 167.7,349.8 168.5,349.9 169.2,350.1 170.0,350.2 170.7,350.3 171.5,350.4 172.3,350.6 173.0,350.7 173.8,350.8 174.5,351.0 175.3,351.1 176.0,351.2 176.8,351.4 177.6,351.5 178.3,351.6 179.1,351.7 179.8,351.9 180.6,352.0 181.3,352.1 182.1,352.3 182.9,352.4 183.6,352.5 184.4,352.7 185.1,352.8 185.9,352.9 186.6,353.1 187.4,353.2 188.2,353.3 188.9,353.5 189.7,353.6 190.4,353.7 191.2,353.9 192.0,354.0 192.7,354.1 193.5,354.3 194.2,354.4 195.0,354.5 195.7,354.7 196.5,354.8 197.3,355.0 198.0,355.1 198.8,355.2 199.5,355.4 200.3,355.5 201.1,355.6 201.8,355.8 202.6,355.9 203.3,356.1 204.1,356.2 204.8,356.3 205.6,356.5 206.4,356.6 207.1,356.8 207.9,356.9 208.6,357.0 209.4,357.2 210.2,357.3 210.9,357.5 211.7,357.6 212.4,357.8 213.2,357.9 214.0,358.0 214.7,358.2 215.5,358.3 216.2,358.5 217.0,358.6 217.7,358.8 218.5,358.9 219.3,359.1 220.0,359.3 220.8,359.4 221.5,359.6 222.3,359.7 223.0,359.9 223.8,360.1 224.5,360.2 225.3,360.4 226.1,360.6 226.8,360.8 227.6,360.9 228.3,361.1 229.1,361.3 229.8,361.5 230.6,361.7 231.3,361.8 232.1,362.0 232.8,362.2 233.6,362.4 234.3,362.6 235.0,362.8 235.8,363.0 236.5,363.2 237.3,363.4 238.0,363.7 238.8,363.9 239.5,364.1 240.2,364.3 241.0,364.5 241.7,364.8 242.5,365.0 243.2,365.2 243.9,365.5 244.7,365.7 245.4,366.0 246.1,366.2 246.9,366.5 247.6,366.7 248.3,367.0 249.0,367.2 249.8,367.5 250.5,367.8 251.2,368.1 251.9,368.3 252.6,368.6 253.4,368.9 254.1,369.2 254.8,369.5 255.5,369.8 256.2,370.1 256.9,370.4 257.6,370.7 258.3,371.0 259.0,371.3 259.7,371.6 260.4,372.0 261.1,372.3 261.8,372.6 262.5,373.0 263.2,373.3 263.9,373.7 264.5,374.0 265.2,374.4 265.9,374.7 266.6,375.1 267.2,375.4 267.9,375.8 268.6,376.2 269.2,376.6 269.9,377.0 270.6,377.3 271.2,377.7 271.9,378.1 272.5,378.5 273.2,378.9 273.8,379.3 274.4,379.8 275.1,380.2 275.7,380.6 276.3,381.0 277.0,381.5 277.6,381.9 278.2,382.3 278.8,382.8 279.4,383.2 280.0,383.7 280.6,384.2 281.2,384.6 281.8,385.1 282.4,385.6 283.0,386.1 283.6,386.5 284.2,387.0 284.8,387.5 285.3,388.0 285.9,388.5 286.5,389.1 287.0,389.6 287.6,390.1 288.1,390.6 288.7,391.1 289.2,391.7 289.8,392.2 290.3,392.8 290.8,393.3 291.3,393.9 291.9,394.4 292.4,395.0 292.9,395.6 293.4,396.2 293.9,396.7 294.4,397.3 294.9,397.9 295.4,398.5 295.9,399.1 296.3,399.7 296.8,400.3 297.3,400.9 297.7,401.6 298.2,402.2 298.7,402.8 299.1,403.4 299.5,404.1 300.0,404.7 300.4,405.3 300.8,406.0 301.3,406.6 301.7,407.3 302.1,408.0 302.5,408.6 302.9,409.3 303.3,409.9 303.7,410.6 304.1,411.3 304.4,412.0 304.8,412.7 305.2,413.3 305.5,414.0 305.9,414.7 306.3,415.4" stroke="#14F0F0" stroke-width="1.45" fill="none" stroke-linejoin="round" clip-path="url(#c1)" />
<path d="M40.0,322.2 40.8,322.3 41.5,322.5 42.3,322.6 43.1,322.7 43.8,322.9 44.6,323.0 45.4,323.1 46.1,323.3 46.9,323.4 47.7,323.5 48.4,323.7 49.2,323.8 50.0,323.9 50.7,324.1 51.5,324.2 52.3,324.3 53.0,324.5 53.8,324.6 54.6,324.7 55.3,324.8 56.1,325.0 56.9,325.1 57.6,325.2 58.4,325.4 59.2,325.5 59.9,325.6 60.7,325.7 61.5,325.9 62.2,326.0 63.0,326.1 63.8,326.2 64.5,326.4 65.3,326.5 66.1,326.6 66.9,326.8 67.6,326.9 68.4,327.0 69.2,327.1 69.9,327.3 70.7,327.4 71.5,327.5 72.2,327.6 73.0,327.7 73.8,327.9 74.6,328.0 75.3,328.1 76.1,328.2 76.9,328.4 77.6,328.5 78.4,328.6 79.2,328.7 79.9,328.9 80.7,329.0 81.5,329.1 82.3,329.2 83.0,329.4 83.8,329.5 84.6,329.6 85.3,329.7 86.1,329.8 86.9,330.0 87.7,330.1 88.4,330.2 89.2,330.3 90.0,330.5 90.7,330.6 91.5,330.7 92.3,330.8 93.0,330.9 93.8,331.1 94.6,331.2 95.4,331.3 96.1,331.4 96.9,331.6 97.7,331.7 98.4,331.8 99.2,331.9 100.0,332.1 100.8,332.2 101.5,332.3 102.3,332.4 103.1,332.6 103.8,332.7 104.6,332.8 105.4,332.9 106.1,333.1 106.9,333.2 107.7,333.3 108.5,333.4 109.2,333.6 110.0,333.7 110.8,333.8 111.5,333.9 112.3,334.1 113.1,334.2 113.8,334.3 114.6,334.4 115.4,334.6 116.2,334.7 116.9,334.8 117.7,335.0 118.5,335.1 119.2,335.2 120.0,335.3 120.8,335.5 121.5,335.6 122.3,335.7 123.1,335.9 123.8,336.0 124.6,336.1 125.4,336.3 126.1,336.4 126.9,336.5 127.7,336.7 128.4,336.8 129.2,336.9 130.0,337.1 130.7,337.2 131.5,337.3 132.3,337.5 133.0,337.6 133.8,337.7 134.6,337.9 135.3,338.0 136.1,338.1 136.9,338.3 137.6,338.4 138.4,338.6 139.2,338.7 139.9,338.8 140.7,339.0 141.5,339.1 142.2,339.3 143.0,339.4 143.8,339.5 144.5,339.7 145.3,339.8 146.1,340.0 146.8,340.1 147.6,340.3 148.3,340.4 149.1,340.6 149.9,340.7 150.6,340.9 151.4,341.0 152.2,341.1 152.9,341.3 153.7,341.4 154.4,341.6 155.2,341.7 156.0,341.9 156.7,342.0 157.5,342.2 158.3,342.3 159.0,342.5 159.8,342.6 160.5,342.8 161.3,342.9 162.1,343.1 162.8,343.3 163.6,343.4 164.3,343.6 165.1,343.7 165.9,343.9 166.6,344.0 167.4,344.2 168.2,344.3 168.9,344.5 169.7,344.6 170.4,344.8 171.2,344.9 172.0,345.1 172.7,345.2 173.5,345.4 174.2,345.6 175.0,345.7 175.8,345.9 176.5,346.0 177.3,346.2 178.1,346.3 178.8,346.5 179.6,346.6 180.3,346.8 181.1,347.0 181.9,347.1 182.6,347.3 183.4,347.4 184.2,347.6 184.9,347.7 185.7,347.9 186.4,348.0 187.2,348.2 188.0,348.4 188.7,348.5 189.5,348.7 190.3,348.8 191.0,349.0 191.8,349.1 192.6,349.3 193.3,349.4 194.1,349.6 194.8,349.8 195.6,349.9 196.4,350.1 197.1,350.2 197.9,350.4 198.7,350.5 199.4,350.7 200.2,350.8 201.0,351.0 201.7,351.1 202.5,351.3 203.3,351.5 204.0,351.6 204.8,351.8 205.6,351.9 206.3,352.1 207.1,352.2 207.9,352.4 208.7,352.5 209.4,352.7 210.2,352.8 211.0,353.0 211.7,353.1 212.5,353.3 213.3,353.4 214.0,353.6 214.8,353.8 215.6,353.9 216.3,354.1 217.1,354.2 217.9,354.4 218.6,354.5 219.4,354.7 220.2,354.9 221.0,355.0 221.7,355.2 222.5,355.4 223.3,355.5 224.0,355.7 224.8,355.9 225.5,356.1 226.3,356.2 227.1,356.4 227.8,356.6 228.6,356.8 229.4,357.0 230.1,357.2 230.9,357.3 231.6,357.5 232.4,357.7 233.2,357.9 233.9,358.1 234.7,358.3 235.4,358.5 236.2,358.7 236.9,359.0 237.7,359.2 238.4,359.4 239.2,359.6 239.9,359.8 240.7,360.1 241.4,360.3 242.2,360.5 242.9,360.8 243.7,361.0 244.4,361.3 245.1,361.5 245.9,361.8 246.6,362.0 247.4,362.3 248.1,362.6 248.8,362.8 249.6,363.1 250.3,363.4 251.0,363.7 251.7,364.0 252.5,364.3 253.2,364.5 253.9,364.8 254.6,365.1 255.3,365.5 256.0,365.8 256.7,366.1 257.5,366.4 258.2,366.7 258.9,367.0 259.6,367.4 260.3,367.7 261.0,368.1 261.7,368.4 262.3,368.8 263.0,369.1 263.7,369.5 264.4,369.8 265.1,370.2 265.7,370.6 266.4,370.9 267.1,371.3 267.8,371.7 268.4,372.1 269.1,372.5 269.7,372.9 270.4,373.3 271.0,373.7 271.7,374.1 272.3,374.5 273.0,375.0 273.6,375.4 274.2,375.8 274.9,376.3 275.5,376.7 276.1,377.2 276.7,377.6 277.4,378.1 278.0,378.5 278.6,379.0 279.2,379.5 279.8,380.0 280.4,380.5 281.0,380.9 281.5,381.4 282.1,381.9 282.7,382.4 283.3,383.0 283.8,383.5 284.4,384.0 285.0,384.5 285.5,385.1 286.1,385.6 286.6,386.1 287.1,386.7 287.7,387.2 288.2,387.8 288.7,388.4 289.3,388.9 289.8,389.5 290.3,390.1 290.8,390.7 291.3,391.3 291.8,391.9 292.3,392.5 292.8,393.1 293.3,393.7 293.7,394.3 294.2,395.0 294.7,395.6 295.1,396.2 295.6,396.9 296.0,397.5 296.5,398.1 296.9,398.8 297.4,399.4 297.8,400.1 298.2,400.8 298.7,401.4 299.1,402.1 299.5,402.8 299.9,403.4 300.3,404.1 300.7,404.8 301.1,405.5 301.5,406.2 301.9,406.9 302.3,407.5 302.7,408.2 303.0,408.9 303.4,409.6 303.8,410.4 304.1,411.1 304.5,411.8 304.8,412.5 305.2,413.2 305.5,413.9 305.9,414.6 306.2,415.3" stroke="#14F014" stroke-width="1.45" fill="none" stroke-linejoin="round" clip-path="url(#c1)" />
<path d="M40.0,311.4 40.7,311.6 41.5,311.7 42.3,311.8 43.1,312.0 43.9,312.1 44.6,312.2 45.4,312.4 46.2,312.5 47.0,312.7 47.8,312.8 48.5,312.9 49.3,313.1 50.1,313.2 50.9,313.4 51.7,313.5 52.4,313.6 53.2,313.8 54.0,313.9 54.8,314.1 55.6,314.2 56.3,314.3 57.1,314.5 57.9,314.6 58.7,314.8 59.5,314.9 60.2,315.1 61.0,315.2 61.8,315.4 62.6,315.5 63.3,315.7 64.1,315.8 64.9,316.0 65.7,316.1 66.5,316.3 67.2,316.4 68.0,316.6 68.8,316.7 69.6,316.9 70.3,317.0 71.1,317.2 71.9,317.3 72.7,317.5 73.4,317.6 74.2,317.8 75.0,317.9 75.8,318.1 76.6,318.2 77.3,318.4 78.1,318.6 78.9,318.7 79.7,318.9 80.4,319.0 81.2,319.2 82.0,319.3 82.8,319.5 83.5,319.7 84.3,319.8 85.1,320.0 85.9,320.1 86.6,320.3 87.4,320.4 88.2,320.6 89.0,320.8 89.7,320.9 90.5,321.1 91.3,321.2 92.1,321.4 92.8,321.6 93.6,321.7 94.4,321.9 95.2,322.0 95.9,322.2 96.7,322.4 97.5,322.5 98.2,322.7 99.0,322.9 99.8,323.0 100.6,323.2 101.3,323.3 102.1,323.5 102.9,323.7 103.7,323.8 104.4,324.0 105.2,324.1 106.0,324.3 106.8,324.5 107.5,324.6 108.3,324.8 109.1,325.0 109.9,325.1 110.6,325.3 111.4,325.5 112.2,325.6 113.0,325.8 113.7,325.9 114.5,326.1 115.3,326.3 116.1,326.4 116.8,326.6 117.6,326.8 118.4,326.9 119.1,327.1 119.9,327.2 120.7,327.4 121.5,327.6 122.2,327.7 123.0,327.9 123.8,328.1 124.6,328.2 125.3,328.4 126.1,328.6 126.9,328.7 127.7,328.9 128.4,329.0 129.2,329.2 130.0,329.4 130.8,329.5 131.5,329.7 132.3,329.8 133.1,330.0 133.9,330.2 134.6,330.3 135.4,330.5 136.2,330.7 136.9,330.8 137.7,331.0 138.5,331.1 139.3,331.3 140.0,331.5 140.8,331.6 141.6,331.8 142.4,331.9 143.1,332.1 143.9,332.3 144.7,332.4 145.5,332.6 146.2,332.7 147.0,332.9 147.8,333.1 148.6,333.2 149.3,333.4 150.1,333.5 150.9,333.7 151.7,333.9 152.4,334.0 153.2,334.2 154.0,334.3 154.8,334.5 155.5,334.6 156.3,334.8 157.1,335.0 157.9,335.1 158.6,335.3 159.4,335.4 160.2,335.6 161.0,335.8 161.7,335.9 162.5,336.1 163.3,336.2 164.1,336.4 164.8,336.6 165.6,336.7 166.4,336.9 167.2,337.0 167.9,337.2 168.7,337.4 169.5,337.5 170.3,337.7 171.0,337.9 171.8,338.0 172.6,338.2 173.4,338.4 174.1,338.5 174.9,338.7 175.7,338.8 176.5,339.0 177.2,339.2 178.0,339.3 178.8,339.5 179.6,339.7 180.3,339.8 181.1,340.0 181.9,340.2 182.6,340.4 183.4,340.5 184.2,340.7 185.0,340.9 185.7,341.0 186.5,341.2 187.3,341.4 188.1,341.6 188.8,341.7 189.6,341.9 190.4,342.1 191.1,342.3 191.9,342.4 192.7,342.6 193.5,342.8 194.2,343.0 195.0,343.1 195.8,343.3 196.5,343.5 197.3,343.7 198.1,343.9 198.9,344.0 199.6,344.2 200.4,344.4 201.2,344.6 201.9,344.8 202.7,345.0 203.5,345.2 204.2,345.4 205.0,345.5 205.8,345.7 206.6,345.9 207.3,346.1 208.1,346.3 208.9,346.5 209.6,346.7 210.4,346.9 211.2,347.1 211.9,347.3 212.7,347.5 213.5,347.7 214.2,347.9 215.0,348.1 215.8,348.3 216.5,348.5 217.3,348.7 218.1,348.9 218.8,349.1 219.6,349.3 220.4,349.5 221.1,349.8 221.9,350.0 222.7,350.2 223.4,350.4 224.2,350.6 224.9,350.8 225.7,351.0 226.5,351.3 227.2,351.5 228.0,351.7 228.8,351.9 229.5,352.2 230.3,352.4 231.0,352.6 231.8,352.8 232.6,353.1 233.3,353.3 234.1,353.5 234.8,353.8 235.6,354.0 236.4,354.2 237.1,354.5 237.9,354.7 238.6,355.0 239.4,355.2 240.2,355.4 240.9,355.7 241.7,355.9 242.4,356.2 243.2,356.4 243.9,356.7 244.7,356.9 245.4,357.2 246.2,357.5 247.0,357.7 247.7,358.0 248.5,358.3 249.2,358.5 249.9,358.8 250.7,359.1 251.4,359.4 252.2,359.7 252.9,359.9 253.6,360.2 254.4,360.5 255.1,360.8 255.8,361.1 256.6,361.4 257.3,361.8 258.0,362.1 258.7,362.4 259.4,362.7 260.2,363.0 260.9,363.4 261.6,363.7 262.3,364.1 263.0,364.4 263.7,364.8 264.4,365.2 265.1,365.5 265.7,365.9 266.4,366.3 267.1,366.7 267.8,367.1 268.4,367.5 269.1,367.9 269.8,368.3 270.4,368.7 271.1,369.1 271.7,369.6 272.4,370.0 273.0,370.5 273.6,370.9 274.2,371.4 274.9,371.8 275.5,372.3 276.1,372.8 276.7,373.3 277.3,373.8 277.9,374.3 278.5,374.8 279.1,375.3 279.7,375.8 280.3,376.3 280.8,376.8 281.4,377.4 282.0,377.9 282.5,378.5 283.1,379.0 283.6,379.6 284.2,380.1 284.7,380.7 285.3,381.3 285.8,381.9 286.3,382.4 286.8,383.0 287.3,383.6 287.9,384.2 288.4,384.8 288.9,385.4 289.4,386.1 289.8,386.7 290.3,387.3 290.8,388.0 291.3,388.6 291.7,389.2 292.2,389.9 292.7,390.5 293.1,391.2 293.6,391.9 294.0,392.5 294.4,393.2 294.9,393.9 295.3,394.5 295.7,395.2 296.1,395.9 296.6,396.6 297.0,397.3 297.4,398.0 297.8,398.7 298.2,399.4 298.6,400.1 299.0,400.8 299.3,401.5 299.7,402.2 300.1,402.9 300.5,403.6 300.9,404.3 301.2,405.1 301.6,405.8 301.9,406.5 302.3,407.2 302.7,408.0 303.0,408.7 303.4,409.4 303.7,410.1 304.0,410.9 304.4,411.6 304.7,412.3 305.0,413.1 305.4,413.8 305.7,414.5 306.0,415.3" stroke="#0A8C14" stroke-width="1.45" fill="none" stroke-linejoin="round" clip-path="url(#c1)" />
<path d="M40.0,292.6 40.8,292.8 41.6,293.0 42.4,293.2 43.1,293.4 43.9,293.7 44.7,293.9 45.5,294.1 46.3,294.3 47.0,294.5 47.8,294.8 48.6,295.0 49.4,295.2 50.2,295.4 50.9,295.6 51.7,295.8 52.5,296.0 53.3,296.3 54.1,296.5 54.8,296.7 55.6,296.9 56.4,297.1 57.2,297.3 58.0,297.5 58.8,297.7 59.5,297.9 60.3,298.2 61.1,298.4 61.9,298.6 62.7,298.8 63.5,299.0 64.3,299.2 65.0,299.4 65.8,299.6 66.6,299.8 67.4,300.0 68.2,300.2 69.0,300.4 69.7,300.6 70.5,300.8 71.3,301.0 72.1,301.2 72.9,301.5 73.7,301.7 74.5,301.9 75.2,302.1 76.0,302.3 76.8,302.5 77.6,302.7 78.4,302.9 79.2,303.1 80.0,303.3 80.7,303.5 81.5,303.7 82.3,303.9 83.1,304.1 83.9,304.3 84.7,304.5 85.5,304.7 86.2,304.9 87.0,305.1 87.8,305.3 88.6,305.5 89.4,305.7 90.2,305.9 91.0,306.1 91.8,306.3 92.5,306.5 93.3,306.7 94.1,306.9 94.9,307.1 95.7,307.3 96.5,307.5 97.3,307.7 98.1,307.9 98.8,308.1 99.6,308.3 100.4,308.5 101.2,308.7 102.0,308.9 102.8,309.1 103.6,309.3 104.3,309.5 105.1,309.7 105.9,309.9 106.7,310.1 107.5,310.3 108.3,310.5 109.1,310.7 109.9,310.9 110.6,311.1 111.4,311.3 112.2,311.5 113.0,311.7 113.8,311.9 114.6,312.1 115.4,312.3 116.1,312.5 116.9,312.7 117.7,312.9 118.5,313.1 119.3,313.3 120.1,313.5 120.9,313.7 121.7,313.9 122.4,314.1 123.2,314.3 124.0,314.5 124.8,314.7 125.6,314.9 126.4,315.1 127.1,315.3 127.9,315.5 128.7,315.7 129.5,315.9 130.3,316.1 131.1,316.3 131.9,316.5 132.6,316.8 133.4,317.0 134.2,317.2 135.0,317.4 135.8,317.6 136.6,317.8 137.3,318.0 138.1,318.2 138.9,318.4 139.7,318.6 140.5,318.8 141.3,319.1 142.0,319.3 142.8,319.5 143.6,319.7 144.4,319.9 145.2,320.1 146.0,320.3 146.7,320.5 147.5,320.8 148.3,321.0 149.1,321.2 149.9,321.4 150.6,321.6 151.4,321.8 152.2,322.0 153.0,322.3 153.8,322.5 154.5,322.7 155.3,322.9 156.1,323.1 156.9,323.3 157.7,323.6 158.4,323.8 159.2,324.0 160.0,324.2 160.8,324.4 161.6,324.7 162.3,324.9 163.1,325.1 163.9,325.3 164.7,325.5 165.5,325.8 166.2,326.0 167.0,326.2 167.8,326.4 168.6,326.6 169.4,326.9 170.1,327.1 170.9,327.3 171.7,327.5 172.5,327.8 173.3,328.0 174.0,328.2 174.8,328.4 175.6,328.6 176.4,328.9 177.1,329.1 177.9,329.3 178.7,329.5 179.5,329.8 180.3,330.0 181.0,330.2 181.8,330.4 182.6,330.7 183.4,330.9 184.2,331.1 184.9,331.3 185.7,331.5 186.5,331.8 187.3,332.0 188.1,332.2 188.8,332.4 189.6,332.7 190.4,332.9 191.2,333.1 191.9,333.3 192.7,333.6 193.5,333.8 194.3,334.0 195.1,334.2 195.8,334.5 196.6,334.7 197.4,334.9 198.2,335.1 199.0,335.3 199.7,335.6 200.5,335.8 201.3,336.0 202.1,336.2 202.9,336.5 203.6,336.7 204.4,336.9 205.2,337.1 206.0,337.3 206.8,337.6 207.5,337.8 208.3,338.0 209.1,338.2 209.9,338.5 210.7,338.7 211.5,338.9 212.2,339.1 213.0,339.3 213.8,339.6 214.6,339.8 215.4,340.0 216.1,340.3 216.9,340.5 217.7,340.7 218.5,340.9 219.3,341.2 220.0,341.4 220.8,341.6 221.6,341.9 222.4,342.1 223.1,342.3 223.9,342.6 224.7,342.8 225.5,343.1 226.2,343.3 227.0,343.6 227.8,343.8 228.6,344.0 229.3,344.3 230.1,344.6 230.9,344.8 231.7,345.1 232.4,345.3 233.2,345.6 234.0,345.9 234.7,346.1 235.5,346.4 236.3,346.7 237.0,347.0 237.8,347.2 238.6,347.5 239.3,347.8 240.1,348.1 240.9,348.4 241.6,348.7 242.4,349.0 243.2,349.3 243.9,349.6 244.7,349.9 245.4,350.2 246.2,350.5 246.9,350.8 247.7,351.2 248.4,351.5 249.2,351.8 249.9,352.1 250.7,352.5 251.4,352.8 252.2,353.2 252.9,353.5 253.6,353.9 254.4,354.2 255.1,354.6 255.8,354.9 256.5,355.3 257.3,355.7 258.0,356.1 258.7,356.4 259.4,356.8 260.1,357.2 260.8,357.6 261.5,358.0 262.2,358.4 262.9,358.8 263.6,359.2 264.3,359.7 265.0,360.1 265.7,360.5 266.4,360.9 267.1,361.4 267.7,361.8 268.4,362.3 269.1,362.7 269.7,363.2 270.4,363.6 271.0,364.1 271.7,364.6 272.3,365.0 273.0,365.5 273.6,366.0 274.2,366.5 274.9,367.0 275.5,367.5 276.1,368.0 276.7,368.5 277.3,369.0 277.9,369.6 278.5,370.1 279.1,370.6 279.7,371.2 280.3,371.7 280.8,372.3 281.4,372.8 282.0,373.4 282.5,373.9 283.1,374.5 283.6,375.1 284.2,375.7 284.7,376.3 285.2,376.9 285.7,377.5 286.3,378.1 286.8,378.7 287.3,379.3 287.8,380.0 288.2,380.6 288.7,381.3 289.2,381.9 289.7,382.6 290.1,383.2 290.6,383.9 291.0,384.6 291.5,385.2 291.9,385.9 292.3,386.6 292.8,387.3 293.2,388.0 293.6,388.7 294.0,389.4 294.4,390.1 294.8,390.8 295.2,391.6 295.6,392.3 296.0,393.0 296.4,393.7 296.7,394.5 297.1,395.2 297.5,395.9 297.8,396.7 298.2,397.4 298.6,398.2 298.9,398.9 299.3,399.7 299.6,400.4 300.0,401.2 300.3,401.9 300.6,402.7 301.0,403.4 301.3,404.2 301.6,405.0 302.0,405.7 302.3,406.5 302.6,407.3 302.9,408.0 303.3,408.8 303.6,409.6 303.9,410.3 304.2,411.1 304.5,411.8 304.8,412.6 305.1,413.4 305.5,414.1 305.8,414.9" stroke="#FF8C0A" stroke-width="1.45" fill="none" stroke-linejoin="round" clip-path="url(#c1)" />
<path d="M40.1,278.9 40.9,279.1 41.7,279.2 42.5,279.4 43.3,279.5 44.1,279.7 44.9,279.8 45.7,280.0 46.5,280.1 47.3,280.3 48.2,280.5 49.0,280.6 49.8,280.8 50.6,280.9 51.4,281.1 52.2,281.2 53.0,281.4 53.9,281.5 54.7,281.6 55.5,281.8 56.3,281.9 57.1,282.1 58.0,282.2 58.8,282.4 59.6,282.5 60.4,282.7 61.2,282.8 62.1,283.0 62.9,283.1 63.7,283.2 64.5,283.4 65.3,283.5 66.2,283.7 67.0,283.8 67.8,283.9 68.6,284.1 69.5,284.2 70.3,284.4 71.1,284.5 71.9,284.6 72.8,284.8 73.6,284.9 74.4,285.1 75.2,285.2 76.1,285.3 76.9,285.5 77.7,285.6 78.5,285.8 79.4,285.9 80.2,286.0 81.0,286.2 81.8,286.3 82.7,286.5 83.5,286.6 84.3,286.8 85.1,286.9 86.0,287.0 86.8,287.2 87.6,287.3 88.4,287.5 89.3,287.6 90.1,287.8 90.9,287.9 91.7,288.1 92.6,288.2 93.4,288.3 94.2,288.5 95.0,288.6 95.9,288.8 96.7,288.9 97.5,289.1 98.4,289.2 99.2,289.4 100.0,289.5 100.8,289.7 101.6,289.9 102.5,290.0 103.3,290.2 104.1,290.3 104.9,290.5 105.8,290.6 106.6,290.8 107.4,291.0 108.2,291.1 109.1,291.3 109.9,291.5 110.7,291.6 111.5,291.8 112.3,292.0 113.2,292.1 114.0,292.3 114.8,292.5 115.6,292.6 116.4,292.8 117.3,293.0 118.1,293.2 118.9,293.3 119.7,293.5 120.5,293.7 121.3,293.9 122.2,294.1 123.0,294.2 123.8,294.4 124.6,294.6 125.4,294.8 126.2,295.0 127.0,295.2 127.9,295.4 128.7,295.6 129.5,295.8 130.3,296.0 131.1,296.2 131.9,296.4 132.7,296.6 133.5,296.8 134.3,297.0 135.1,297.2 135.9,297.4 136.7,297.6 137.5,297.9 138.3,298.1 139.1,298.3 140.0,298.5 140.8,298.7 141.6,299.0 142.4,299.2 143.2,299.4 143.9,299.7 144.7,299.9 145.5,300.1 146.3,300.4 147.1,300.6 147.9,300.9 148.7,301.1 149.5,301.3 150.3,301.6 151.1,301.8 151.9,302.1 152.7,302.3 153.5,302.6 154.3,302.9 155.0,303.1 155.8,303.4 156.6,303.6 157.4,303.9 158.2,304.2 159.0,304.4 159.8,304.7 160.5,305.0 161.3,305.2 162.1,305.5 162.9,305.8 163.7,306.1 164.5,306.3 165.2,306.6 166.0,306.9 166.8,307.2 167.6,307.5 168.4,307.8 169.1,308.1 169.9,308.3 170.7,308.6 171.5,308.9 172.2,309.2 173.0,309.5 173.8,309.8 174.6,310.1 175.3,310.4 176.1,310.7 176.9,311.0 177.7,311.3 178.4,311.6 179.2,311.9 180.0,312.2 180.7,312.6 181.5,312.9 182.3,313.2 183.1,313.5 183.8,313.8 184.6,314.1 185.4,314.4 186.1,314.8 186.9,315.1 187.7,315.4 188.4,315.7 189.2,316.0 190.0,316.4 190.7,316.7 191.5,317.0 192.3,317.3 193.0,317.7 193.8,318.0 194.6,318.3 195.3,318.7 196.1,319.0 196.8,319.3 197.6,319.7 198.4,320.0 199.1,320.3 199.9,320.7 200.7,321.0 201.4,321.4 202.2,321.7 202.9,322.0 203.7,322.4 204.5,322.7 205.2,323.1 206.0,323.4 206.7,323.8 207.5,324.1 208.3,324.5 209.0,324.8 209.8,325.2 210.5,325.5 211.3,325.9 212.1,326.2 212.8,326.6 213.6,326.9 214.3,327.3 215.1,327.6 215.9,328.0 216.6,328.3 217.4,328.7 218.1,329.0 218.9,329.4 219.7,329.8 220.4,330.1 221.2,330.5 221.9,330.8 222.7,331.2 223.4,331.6 224.2,331.9 225.0,332.3 225.7,332.6 226.5,333.0 227.2,333.4 228.0,333.7 228.8,334.1 229.5,334.5 230.3,334.8 231.0,335.2 231.8,335.6 232.5,335.9 233.3,336.3 234.1,336.7 234.8,337.0 235.6,337.4 236.3,337.8 237.1,338.1 237.9,338.5 238.6,338.9 239.4,339.2 240.1,339.6 240.9,340.0 241.7,340.3 242.4,340.7 243.2,341.1 243.9,341.5 244.7,341.8 245.4,342.2 246.2,342.6 247.0,342.9 247.7,343.3 248.5,343.7 249.2,344.1 250.0,344.5 250.7,344.8 251.5,345.2 252.2,345.6 253.0,346.0 253.7,346.4 254.4,346.8 255.2,347.2 255.9,347.6 256.6,348.0 257.4,348.4 258.1,348.8 258.8,349.2 259.6,349.6 260.3,350.0 261.0,350.5 261.7,350.9 262.4,351.3 263.1,351.7 263.8,352.2 264.5,352.6 265.2,353.1 265.9,353.5 266.6,354.0 267.3,354.4 268.0,354.9 268.6,355.3 269.3,355.8 270.0,356.3 270.6,356.8 271.3,357.3 272.0,357.7 272.6,358.2 273.2,358.7 273.9,359.3 274.5,359.8 275.1,360.3 275.8,360.8 276.4,361.3 277.0,361.9 277.6,362.4 278.2,363.0 278.8,363.5 279.3,364.1 279.9,364.7 280.5,365.3 281.0,365.9 281.6,366.4 282.1,367.1 282.7,367.7 283.2,368.3 283.8,368.9 284.3,369.5 284.8,370.2 285.3,370.8 285.8,371.5 286.3,372.2 286.7,372.8 287.2,373.5 287.7,374.2 288.1,374.9 288.6,375.6 289.0,376.3 289.5,377.1 289.9,377.8 290.3,378.5 290.7,379.3 291.1,380.0 291.5,380.8 291.9,381.6 292.3,382.3 292.6,383.1 293.0,383.9 293.4,384.7 293.7,385.5 294.1,386.2 294.5,387.0 294.8,387.8 295.1,388.6 295.5,389.4 295.8,390.2 296.2,391.0 296.5,391.8 296.8,392.6 297.1,393.4 297.5,394.2 297.8,395.0 298.1,395.8 298.4,396.6 298.7,397.4 299.0,398.2 299.3,399.0 299.6,399.8 300.0,400.6 300.3,401.3 300.6,402.1 300.9,402.9 301.2,403.6 301.5,404.4 301.8,405.2 302.1,405.9 302.4,406.6 302.8,407.4 303.1,408.1 303.4,408.8 303.7,409.6 304.0,410.3 304.3,411.0 304.7,411.8 305.0,412.5 305.3,413.3 305.6,414.0 306.0,414.8" stroke="#FF0A0A" stroke-width="1.45" fill="none" stroke-linejoin="round" clip-path="url(#c1)" />
<path d="M78.0,276.6 79.1,277.0 80.2,277.3 81.3,277.7 82.5,278.0 83.6,278.3 84.8,278.6 85.9,278.9 87.0,279.1 88.2,279.4 89.4,279.6 90.5,279.9 91.7,280.1 92.8,280.3 94.0,280.5 95.2,280.7 96.3,280.9 97.5,281.1 98.7,281.2 99.8,281.4 101.0,281.6 102.2,281.7 103.3,281.9 104.5,282.1 105.7,282.2 106.9,282.4 108.0,282.6 109.2,282.7 110.4,282.9 111.5,283.1 112.7,283.2 113.9,283.4 115.0,283.6 116.2,283.8 117.4,284.0 118.5,284.2 119.7,284.3 120.8,284.5 122.0,284.7 123.2,284.9 124.3,285.1 125.5,285.3 126.6,285.5 127.8,285.8 128.9,286.0 130.1,286.2 131.3,286.4 132.4,286.6 133.6,286.8 134.7,287.0 135.9,287.3 137.0,287.5 138.2,287.7 139.3,287.9 140.5,288.2 141.6,288.4 142.8,288.6 143.9,288.8 145.1,289.1 146.3,289.3 147.4,289.5 148.6,289.8 149.7,290.0 150.9,290.2 152.0,290.5 153.2,290.7 154.3,290.9 155.5,291.1 156.7,291.4 157.8,291.6 159.0,291.8 160.1,292.1 161.3,292.3 162.5,292.5 163.6,292.7 164.8,293.0 165.9,293.2 167.1,293.4 168.3,293.7 169.4,293.9 170.6,294.1 171.8,294.3 172.9,294.6 174.1,294.8 175.3,295.1 176.4,295.3 177.6,295.5 178.7,295.8 179.9,296.0 181.1,296.3 182.2,296.5 183.4,296.8 184.5,297.1 185.7,297.3 186.8,297.6 188.0,297.9 189.1,298.2 190.3,298.5 191.4,298.7 192.6,299.0 193.7,299.3 194.9,299.7 196.0,300.0 197.1,300.3 198.3,300.6 199.4,301.0 200.5,301.3 201.7,301.6 202.8,302.0 203.9,302.4 205.0,302.7 206.1,303.1 207.3,303.5 208.4,303.9 209.5,304.3 210.6,304.7 211.7,305.2 212.7,305.6 213.8,306.1 214.9,306.5 215.9,307.0 217.0,307.5 218.0,308.0 219.1,308.6 220.1,309.1 221.1,309.7 222.2,310.3 223.2,310.8 224.2,311.4 225.2,312.0 226.2,312.6 227.2,313.3 228.1,313.9 229.1,314.6 230.1,315.2 231.1,315.9 232.0,316.5 233.0,317.2 234.0,317.9 234.9,318.6 235.9,319.3 236.8,320.0 237.8,320.7 238.7,321.4 239.6,322.1 240.6,322.8 241.5,323.5 242.4,324.3 243.4,325.0 244.3,325.7 245.3,326.4 246.2,327.2 247.1,327.9 248.0,328.6 249.0,329.4 249.9,330.1 250.8,330.8 251.8,331.6 252.7,332.3 253.6,333.0 254.5,333.8 255.5,334.5 256.4,335.3 257.3,336.0 258.2,336.8 259.1,337.5 260.0,338.3 260.9,339.0 261.9,339.8 262.8,340.5 263.7,341.3 264.6,342.1 265.5,342.9 266.3,343.6 267.2,344.4 268.1,345.2 269.0,346.0 269.9,346.8 270.8,347.6 271.6,348.4 272.5,349.2 273.4,350.0 274.2,350.9 275.0,351.7 275.9,352.5 276.7,353.4 277.5,354.2 278.3,355.1 279.1,355.9 279.9,356.8 280.7,357.7 281.4,358.6 282.1,359.5 282.9,360.4 283.6,361.3 284.3,362.3 285.0,363.2 285.6,364.2 286.3,365.1 286.9,366.1 287.5,367.1 288.1,368.1 288.6,369.1 289.2,370.1 289.7,371.2 290.2,372.2 290.7,373.3 291.2,374.4 291.7,375.4 292.1,376.5 292.6,377.6 293.0,378.7 293.4,379.8 293.9,380.9 294.3,382.0 294.7,383.1 295.1,384.3 295.5,385.4 295.9,386.5 296.2,387.6 296.6,388.7 297.0,389.9 297.4,391.0 297.8,392.1 298.2,393.2 298.6,394.4 299.0,395.5 299.4,396.6 299.8,397.7 300.2,398.8 300.6,399.9 301.0,401.0 301.5,402.1 301.9,403.2 302.3,404.3 302.7,405.4 303.1,406.5 303.6,407.6 304.0,408.7 304.4,409.8 304.8,410.9 305.3,412.0 305.7,413.1 306.1,414.2 306.5,415.3 306.9,416.4 307.3,417.5 307.8,418.6 308.2,419.7 308.6,420.8 309.0,422.0 309.4,423.1 309.8,424.2 310.2,425.3 310.5,426.4 310.9,427.5 311.3,428.6 311.7,429.7 312.0,430.8 312.4,432.0 312.8,433.1 313.1,434.2 313.5,435.3 313.8,436.5 314.1,437.6 314.5,438.7 314.8,439.8 315.1,441.0 315.5,442.1 315.8,443.2 316.1,444.4 316.4,445.5 316.7,446.7 316.9,447.8 317.2,448.9 317.5,450.1 317.8,451.2 318.0,452.4 318.3,453.5 318.5,454.7 318.8,455.8 319.0,457.0 319.2,458.1 319.5,459.3 319.7,460.5 319.9,461.6 320.1,462.8 320.3,463.9 320.5,465.1 320.6,466.3 320.8,467.5 321.0,468.6 321.1,469.8 321.3,471.0 321.4,472.2 321.5,473.3 321.6,474.5 321.7,475.7 321.8,476.9 321.9,478.1 322.0,478.7" stroke="#FF00C8" stroke-width="1.45" fill="none" stroke-linejoin="round" clip-path="url(#c1)" />
<path d="M40.0,617.9 40.6,618.0 41.3,618.0 41.9,618.1 42.6,618.1 43.2,618.1 43.9,618.2 44.5,618.2 45.2,618.3 45.8,618.3 46.5,618.4 47.1,618.4 47.8,618.5 48.4,618.5 49.1,618.6 49.8,618.6 50.4,618.7 51.1,618.7 51.7,618.8 52.4,618.8 53.0,618.9 53.7,618.9 54.3,619.0 55.0,619.0 55.6,619.1 56.3,619.1 56.9,619.2 57.6,619.2 58.2,619.3 58.9,619.3 59.5,619.4 60.2,619.4 60.8,619.5 61.5,619.5 62.1,619.6 62.8,619.6 63.4,619.7 64.1,619.7 64.7,619.8 65.4,619.8 66.0,619.9 66.7,619.9 67.3,620.0 68.0,620.0 68.6,620.1 69.3,620.1 69.9,620.2 70.6,620.3 71.2,620.3 71.9,620.4 72.5,620.4 73.2,620.5 73.8,620.5 74.5,620.6 75.1,620.6 75.8,620.7 76.4,620.7 77.1,620.8 77.7,620.8 78.4,620.9 79.0,620.9 79.7,621.0 80.3,621.0 81.0,621.1 81.6,621.2 82.3,621.2 82.9,621.3 83.6,621.3 84.2,621.4 84.9,621.4 85.5,621.5 86.2,621.5 86.8,621.6 87.5,621.6 88.1,621.7 88.8,621.7 89.4,621.8 90.1,621.9 90.7,621.9 91.4,622.0 92.0,622.0 92.7,622.1 93.3,622.1 94.0,622.2 94.6,622.2 95.3,622.3 95.9,622.3 96.6,622.4 97.2,622.5 97.9,622.5 98.5,622.6 99.2,622.6 99.8,622.7 100.5,622.7 101.1,622.8 101.8,622.8 102.4,622.9 103.1,622.9 103.7,623.0 104.4,623.1 105.0,623.1 105.7,623.2 106.3,623.2 107.0,623.3 107.6,623.3 108.3,623.4 108.9,623.4 109.6,623.5 110.2,623.5 110.9,623.6 111.5,623.7 112.2,623.7 112.8,623.8 113.5,623.8 114.1,623.9 114.8,623.9 115.4,624.0 116.1,624.0 116.7,624.1 117.4,624.2 118.0,624.2 118.7,624.3 119.3,624.3 120.0,624.4 120.6,624.4 121.3,624.5 121.9,624.5 122.6,624.6 123.2,624.6 123.9,624.7 124.5,624.8 125.2,624.8 125.8,624.9 126.5,624.9 127.1,625.0 127.8,625.0 128.4,625.1 129.1,625.1 129.7,625.2 130.4,625.2 131.0,625.3 131.7,625.4 132.3,625.4 133.0,625.5 133.6,625.5 134.3,625.6 134.9,625.6 135.6,625.7 136.2,625.7 136.9,625.8 137.5,625.8 138.2,625.9 138.8,626.0 139.5,626.0 140.1,626.1 140.8,626.1 141.4,626.2 142.1,626.2 142.7,626.3 143.4,626.3 144.0,626.4 144.7,626.4 145.3,626.5 146.0,626.5 146.6,626.6 147.3,626.6 147.9,626.7 148.6,626.8 149.2,626.8 149.9,626.9 150.5,626.9 151.2,627.0 151.8,627.0 152.5,627.1 153.1,627.1 153.8,627.2 154.4,627.2 155.1,627.3 155.7,627.3 156.4,627.4 157.0,627.4 157.7,627.5 158.3,627.5 159.0,627.6 159.6,627.6 160.3,627.7 160.9,627.7 161.6,627.8 162.3,627.8 162.9,627.9 163.6,628.0 164.2,628.0 164.9,628.1 165.5,628.1 166.2,628.2 166.8,628.2 167.5,628.3 168.1,628.3 168.8,628.4 169.4,628.4 170.1,628.5 170.7,628.5 171.4,628.6 172.0,628.6 172.7,628.7 173.3,628.7 174.0,628.8 174.6,628.8 175.3,628.9 175.9,628.9 176.6,629.0 177.2,629.0 177.9,629.1 178.5,629.1 179.2,629.1 179.8,629.2 180.5,629.2 181.1,629.3 181.8,629.3 182.4,629.4 183.1,629.4 183.7,629.5 184.4,629.5 185.0,629.6 185.7,629.6 186.3,629.7 187.0,629.7 187.6,629.8 188.3,629.8 188.9,629.9 189.6,629.9 190.3,629.9 190.9,630.0 191.6,630.0 192.2,630.1 192.9,630.1 193.5,630.2 194.2,630.2 194.8,630.3 195.5,630.3 196.1,630.4 196.8,630.4 197.4,630.4 198.1,630.5 198.7,630.5 199.4,630.6 200.0,630.6 200.7,630.7 201.3,630.7 202.0,630.8 202.6,630.8 203.3,630.8 204.0,630.9 204.6,630.9 205.3,631.0 205.9,631.0 206.6,631.0 207.2,631.1 207.9,631.1 208.5,631.2 209.2,631.2 209.8,631.3 210.5,631.3 211.1,631.3 211.8,631.4 212.4,631.4 213.1,631.5 213.7,631.5 214.4,631.6 215.0,631.6 215.7,631.7 216.4,631.7 217.0,631.8 217.7,631.8 218.3,631.9 219.0,631.9 219.6,632.0 220.3,632.0 220.9,632.1 221.6,632.1 222.2,632.2 222.9,632.3 223.5,632.3 224.2,632.4 224.8,632.5 225.5,632.5 226.1,632.6 226.8,632.7 227.4,632.7 228.0,632.8 228.7,632.9 229.3,633.0 230.0,633.1 230.6,633.1 231.3,633.2 231.9,633.3 232.6,633.4 233.2,633.5 233.9,633.6 234.5,633.7 235.1,633.8 235.8,633.9 236.4,634.0 237.1,634.1 237.7,634.2 238.3,634.4 239.0,634.5 239.6,634.6 240.3,634.7 240.9,634.9 241.5,635.0 242.2,635.1 242.8,635.3 243.4,635.4 244.1,635.6 244.7,635.7 245.3,635.9 246.0,636.0 246.6,636.2 247.2,636.4 247.9,636.5 248.5,636.7 249.1,636.9 249.7,637.1 250.4,637.3 251.0,637.4 251.6,637.6 252.2,637.8 252.9,638.1 253.5,638.3 254.1,638.5 254.7,638.7 255.3,638.9 256.0,639.2 256.6,639.4 257.2,639.6 257.8,639.9 258.4,640.1 259.0,640.4 259.6,640.7 260.2,640.9 260.8,641.2 261.3,641.5 261.9,641.8 262.5,642.1 263.1,642.4 263.6,642.7 264.2,643.1 264.7,643.5 265.1,644.0 265.2,644.6 264.9,645.3 264.6,645.9 264.3,646.5 264.0,647.1 263.6,647.7 263.3,648.3 262.9,648.9 262.5,649.4 262.1,650.0 261.7,650.5 261.3,651.1 260.8,651.6 260.4,652.1 259.9,652.6 259.5,653.1 259.0,653.5 258.5,654.0 258.0,654.5 257.5,654.9 256.9,655.3 256.4,655.8 255.9,656.2 255.3,656.6 254.8,657.0 254.2,657.4 253.6,657.7 253.0,658.1 252.5,658.4 251.9,658.8 251.3,659.1 250.7,659.5 250.1,659.8 249.4,660.1 248.8,660.4 248.2,660.7 247.6,661.0 246.9,661.3 246.3,661.6 245.7,661.8 245.0,662.1 244.4,662.4 243.8,662.6 243.1,662.9 242.5,663.2 241.8,663.4 241.2,663.7 240.5,663.9 239.9,664.1 239.2,664.4 238.6,664.6 237.9,664.8 237.2,665.0 236.6,665.3 235.9,665.5 235.3,665.7 234.6,665.9 234.0,666.1 233.3,666.3 232.6,666.5 232.0,666.7 231.3,666.9 230.7,667.1 230.0,667.3 229.3,667.5 228.7,667.7 228.0,667.9 227.3,668.1 226.7,668.3 226.0,668.5 225.4,668.7 224.7,668.8 224.0,669.0 223.4,669.2 222.7,669.4 222.1,669.6 221.4,669.7 220.7,669.9 220.1,670.1 219.4,670.3 218.8,670.4 218.1,670.6 217.4,670.8 216.8,670.9 216.1,671.1 215.5,671.3 214.8,671.4 214.1,671.6 213.5,671.8 212.8,671.9 212.2,672.1 211.5,672.2 210.8,672.4 210.2,672.5 209.5,672.7 208.8,672.8 208.2,673.0 207.5,673.1 206.8,673.2 206.2,673.4 205.5,673.5 204.8,673.6 204.2,673.8 203.5,673.9 202.8,674.0 202.2,674.2 201.5,674.3 200.8,674.4 200.1,674.5 199.5,674.7 198.8,674.8 198.1,674.9 197.4,675.0 196.8,675.1 196.1,675.2 195.4,675.3 194.7,675.5 194.1,675.6 193.4,675.7 192.7,675.8 192.0,675.9 191.4,676.0 190.7,676.2 190.0,676.3 189.3,676.4 188.7,676.5 188.0,676.6 187.3,676.7 186.6,676.9 186.0,677.0 185.3,677.1 184.6,677.3 183.9,677.4 183.3,677.5 182.6,677.7 181.9,677.8 181.2,677.9 180.6,678.1 179.9,678.2 179.2,678.4 178.6,678.5 177.9,678.7 177.2,678.8 176.6,679.0 175.9,679.2 175.2,679.3 174.6,679.5 173.9,679.7 173.2,679.9 172.6,680.0 171.9,680.2 171.2,680.4 170.6,680.6 169.9,680.8 169.3,681.0 168.6,681.1 167.9,681.3 167.3,681.5 166.6,681.7 166.0,681.9 165.3,682.1 164.7,682.3 164.0,682.5 163.3,682.7 162.7,682.9 162.0,683.1 161.4,683.4 160.7,683.6 160.1,683.8 159.4,684.0 158.8,684.2 158.1,684.4 157.5,684.6 156.8,684.9 156.2,685.1 155.5,685.3 154.9,685.5 154.2,685.8 153.6,686.0 152.9,686.2 152.3,686.4 151.6,686.7 151.0,686.9 150.3,687.1 149.7,687.3 149.0,687.6 148.4,687.8 147.7,688.0 147.1,688.3 146.4,688.5 145.8,688.7 145.2,689.0 144.5,689.2 143.9,689.4 143.2,689.7 142.6,689.9 141.9,690.1 141.3,690.4 140.6,690.6 140.0,690.8" stroke="#9410CE" stroke-width="1.45" fill="none" stroke-linejoin="round" clip-path="url(#c2)" />
<path d="M39.9,614.1 40.5,614.2 41.2,614.2 41.9,614.3 42.6,614.3 43.2,614.4 43.9,614.5 44.6,614.5 45.3,614.6 45.9,614.6 46.6,614.7 47.3,614.8 48.0,614.8 48.6,614.9 49.3,615.0 50.0,615.0 50.7,615.1 51.3,615.1 52.0,615.2 52.7,615.3 53.3,615.3 54.0,615.4 54.7,615.5 55.4,615.5 56.0,615.6 56.7,615.6 57.4,615.7 58.1,615.8 58.7,615.8 59.4,615.9 60.1,616.0 60.7,616.0 61.4,616.1 62.1,616.2 62.7,616.2 63.4,616.3 64.1,616.4 64.8,616.4 65.4,616.5 66.1,616.6 66.8,616.6 67.4,616.7 68.1,616.7 68.8,616.8 69.4,616.9 70.1,616.9 70.8,617.0 71.5,617.1 72.1,617.1 72.8,617.2 73.5,617.3 74.1,617.3 74.8,617.4 75.5,617.5 76.1,617.5 76.8,617.6 77.5,617.7 78.1,617.7 78.8,617.8 79.5,617.9 80.1,617.9 80.8,618.0 81.5,618.1 82.1,618.1 82.8,618.2 83.5,618.3 84.1,618.3 84.8,618.4 85.5,618.5 86.1,618.5 86.8,618.6 87.5,618.7 88.1,618.7 88.8,618.8 89.5,618.9 90.1,618.9 90.8,619.0 91.5,619.1 92.1,619.1 92.8,619.2 93.5,619.3 94.1,619.3 94.8,619.4 95.5,619.5 96.1,619.5 96.8,619.6 97.5,619.7 98.1,619.7 98.8,619.8 99.5,619.9 100.1,619.9 100.8,620.0 101.5,620.1 102.1,620.1 102.8,620.2 103.5,620.3 104.1,620.3 104.8,620.4 105.4,620.5 106.1,620.5 106.8,620.6 107.4,620.7 108.1,620.7 108.8,620.8 109.4,620.9 110.1,620.9 110.8,621.0 111.4,621.1 112.1,621.1 112.8,621.2 113.4,621.3 114.1,621.3 114.8,621.4 115.4,621.5 116.1,621.5 116.7,621.6 117.4,621.7 118.1,621.7 118.7,621.8 119.4,621.9 120.1,621.9 120.7,622.0 121.4,622.1 122.1,622.1 122.7,622.2 123.4,622.3 124.1,622.3 124.7,622.4 125.4,622.4 126.0,622.5 126.7,622.6 127.4,622.6 128.0,622.7 128.7,622.8 129.4,622.8 130.0,622.9 130.7,623.0 131.4,623.0 132.0,623.1 132.7,623.1 133.4,623.2 134.0,623.3 134.7,623.3 135.3,623.4 136.0,623.5 136.7,623.5 137.3,623.6 138.0,623.7 138.7,623.7 139.3,623.8 140.0,623.8 140.7,623.9 141.3,624.0 142.0,624.0 142.7,624.1 143.3,624.1 144.0,624.2 144.6,624.3 145.3,624.3 146.0,624.4 146.6,624.5 147.3,624.5 148.0,624.6 148.6,624.6 149.3,624.7 150.0,624.8 150.6,624.8 151.3,624.9 152.0,624.9 152.6,625.0 153.3,625.0 154.0,625.1 154.6,625.2 155.3,625.2 156.0,625.3 156.6,625.3 157.3,625.4 158.0,625.5 158.6,625.5 159.3,625.6 159.9,625.6 160.6,625.7 161.3,625.7 161.9,625.8 162.6,625.9 163.3,625.9 163.9,626.0 164.6,626.0 165.3,626.1 165.9,626.1 166.6,626.2 167.3,626.2 167.9,626.3 168.6,626.4 169.3,626.4 169.9,626.5 170.6,626.5 171.3,626.6 172.0,626.6 172.6,626.7 173.3,626.7 174.0,626.8 174.6,626.8 175.3,626.9 176.0,626.9 176.6,627.0 177.3,627.0 178.0,627.1 178.6,627.1 179.3,627.2 180.0,627.2 180.6,627.3 181.3,627.3 182.0,627.4 182.6,627.4 183.3,627.5 184.0,627.5 184.7,627.6 185.3,627.6 186.0,627.7 186.7,627.7 187.3,627.8 188.0,627.8 188.7,627.9 189.3,627.9 190.0,628.0 190.7,628.0 191.4,628.1 192.0,628.1 192.7,628.1 193.4,628.2 194.0,628.2 194.7,628.3 195.4,628.3 196.1,628.4 196.7,628.4 197.4,628.4 198.1,628.5 198.7,628.5 199.4,628.6 200.1,628.6 200.8,628.7 201.4,628.7 202.1,628.7 202.8,628.8 203.4,628.8 204.1,628.9 204.8,628.9 205.5,628.9 206.1,629.0 206.8,629.0 207.5,629.1 208.2,629.1 208.8,629.1 209.5,629.2 210.2,629.2 210.9,629.2 211.5,629.3 212.2,629.3 212.9,629.4 213.6,629.4 214.2,629.4 214.9,629.5 215.6,629.5 216.3,629.6 216.9,629.6 217.6,629.6 218.3,629.7 219.0,629.7 219.6,629.8 220.3,629.8 221.0,629.9 221.7,629.9 222.3,630.0 223.0,630.0 223.7,630.1 224.3,630.1 225.0,630.2 225.7,630.2 226.4,630.3 227.0,630.3 227.7,630.4 228.4,630.5 229.0,630.5 229.7,630.6 230.4,630.6 231.1,630.7 231.7,630.8 232.4,630.8 233.1,630.9 233.7,631.0 234.4,631.1 235.1,631.1 235.7,631.2 236.4,631.3 237.1,631.4 237.7,631.5 238.4,631.6 239.0,631.7 239.7,631.7 240.4,631.8 241.0,631.9 241.7,632.0 242.4,632.1 243.0,632.3 243.7,632.4 244.3,632.5 245.0,632.6 245.6,632.7 246.3,632.8 247.0,632.9 247.6,633.1 248.3,633.2 248.9,633.3 249.6,633.5 250.2,633.6 250.9,633.8 251.5,633.9 252.2,634.1 252.8,634.2 253.5,634.4 254.1,634.5 254.8,634.7 255.4,634.9 256.1,635.0 256.7,635.2 257.3,635.4 258.0,635.6 258.6,635.8 259.3,635.9 259.9,636.1 260.5,636.3 261.2,636.5 261.8,636.8 262.4,637.0 263.1,637.2 263.7,637.4 264.3,637.6 264.9,637.9 265.6,638.1 266.2,638.4 266.8,638.6 267.4,638.9 268.0,639.1 268.7,639.4 269.3,639.7 269.9,640.0 270.5,640.2 271.1,640.5 271.7,640.8 271.6,641.6 271.2,642.2 270.8,642.8 270.4,643.4 270.0,644.0 269.5,644.6 269.1,645.1 268.6,645.7 268.2,646.3 267.7,646.8 267.2,647.3 266.7,647.9 266.2,648.4 265.7,648.9 265.2,649.4 264.7,649.9 264.1,650.3 263.6,650.8 263.1,651.3 262.5,651.7 262.0,652.2 261.4,652.6 260.8,653.1 260.2,653.5 259.7,653.9 259.1,654.3 258.5,654.7 257.9,655.1 257.3,655.5 256.7,655.9 256.0,656.3 255.4,656.7 254.8,657.0 254.2,657.4 253.6,657.7 252.9,658.1 252.3,658.4 251.7,658.8 251.0,659.1 250.4,659.4 249.7,659.7 249.1,660.0 248.4,660.3 247.8,660.6 247.1,660.9 246.4,661.2 245.8,661.5 245.1,661.8 244.4,662.1 243.8,662.3 243.1,662.6 242.4,662.8 241.7,663.1 241.0,663.4 240.4,663.6 239.7,663.8 239.0,664.1 238.3,664.3 237.6,664.5 236.9,664.8 236.2,665.0 235.5,665.2 234.8,665.4 234.2,665.7 233.5,665.9 232.8,666.1 232.1,666.3 231.4,666.5 230.7,666.7 230.0,666.9 229.3,667.1 228.6,667.3 227.9,667.5 227.2,667.7 226.5,667.9 225.8,668.1 225.1,668.3 224.4,668.4 223.7,668.6 223.0,668.8 222.3,669.0 221.6,669.2 220.9,669.4 220.2,669.5 219.5,669.7 218.8,669.9 218.1,670.1 217.4,670.2 216.7,670.4 216.0,670.6 215.3,670.7 214.6,670.9 213.9,671.1 213.2,671.2 212.5,671.4 211.8,671.6 211.1,671.7 210.5,671.9 209.8,672.0 209.1,672.2 208.4,672.3 207.7,672.5 207.0,672.6 206.3,672.8 205.6,672.9 204.8,673.1 204.1,673.2 203.4,673.3 202.7,673.5 202.0,673.6 201.3,673.8 200.6,673.9 199.9,674.0 199.2,674.2 198.5,674.3 197.8,674.4 197.1,674.5 196.4,674.7 195.7,674.8 195.0,674.9 194.3,675.1 193.6,675.2 192.8,675.3 192.1,675.5 191.4,675.6 190.7,675.7 190.0,675.9 189.3,676.0 188.6,676.1 187.9,676.3 187.2,676.4 186.5,676.5 185.8,676.7 185.1,676.8 184.4,677.0 183.7,677.1 183.0,677.3 182.2,677.4 181.5,677.6 180.8,677.7 180.1,677.9 179.4,678.1 178.7,678.2 178.0,678.4 177.3,678.6 176.6,678.8 175.9,678.9 175.2,679.1 174.5,679.3 173.8,679.5 173.2,679.7 172.5,679.9 171.8,680.1 171.1,680.2 170.4,680.4 169.7,680.6 169.0,680.8 168.3,681.1 167.6,681.3 166.9,681.5 166.2,681.7 165.5,681.9 164.8,682.1 164.2,682.3 163.5,682.5 162.8,682.8 162.1,683.0 161.4,683.2 160.7,683.4 160.0,683.7 159.3,683.9 158.7,684.1 158.0,684.4 157.3,684.6 156.6,684.8 155.9,685.1 155.2,685.3 154.6,685.5 153.9,685.8 153.2,686.0 152.5,686.3 151.8,686.5 151.2,686.7 150.5,687.0 149.8,687.2 149.1,687.5 148.4,687.7 147.8,688.0 147.1,688.2 146.4,688.5 145.7,688.7 145.1,689.0 144.4,689.2 143.7,689.5 143.0,689.7 142.4,690.0 141.7,690.2 141.0,690.5 140.3,690.7 140.0,690.9" stroke="#0A0AFF" stroke-width="1.45" fill="none" stroke-linejoin="round" clip-path="url(#c2)" />
<path d="M40.0,609.4 40.7,609.4 41.4,609.5 42.1,609.6 42.7,609.7 43.4,609.8 44.1,609.8 44.8,609.9 45.5,610.0 46.2,610.1 46.9,610.1 47.5,610.2 48.2,610.3 48.9,610.4 49.6,610.5 50.3,610.5 51.0,610.6 51.7,610.7 52.3,610.8 53.0,610.9 53.7,610.9 54.4,611.0 55.1,611.1 55.8,611.2 56.5,611.2 57.1,611.3 57.8,611.4 58.5,611.5 59.2,611.6 59.9,611.6 60.6,611.7 61.3,611.8 62.0,611.9 62.6,612.0 63.3,612.0 64.0,612.1 64.7,612.2 65.4,612.3 66.1,612.4 66.8,612.4 67.4,612.5 68.1,612.6 68.8,612.7 69.5,612.7 70.2,612.8 70.9,612.9 71.6,613.0 72.2,613.1 72.9,613.1 73.6,613.2 74.3,613.3 75.0,613.4 75.7,613.5 76.4,613.5 77.1,613.6 77.7,613.7 78.4,613.8 79.1,613.9 79.8,613.9 80.5,614.0 81.2,614.1 81.9,614.2 82.5,614.2 83.2,614.3 83.9,614.4 84.6,614.5 85.3,614.6 86.0,614.6 86.7,614.7 87.4,614.8 88.0,614.9 88.7,615.0 89.4,615.0 90.1,615.1 90.8,615.2 91.5,615.3 92.2,615.3 92.8,615.4 93.5,615.5 94.2,615.6 94.9,615.7 95.6,615.7 96.3,615.8 97.0,615.9 97.7,616.0 98.3,616.0 99.0,616.1 99.7,616.2 100.4,616.3 101.1,616.4 101.8,616.4 102.5,616.5 103.1,616.6 103.8,616.7 104.5,616.7 105.2,616.8 105.9,616.9 106.6,617.0 107.3,617.1 108.0,617.1 108.6,617.2 109.3,617.3 110.0,617.4 110.7,617.4 111.4,617.5 112.1,617.6 112.8,617.7 113.5,617.7 114.1,617.8 114.8,617.9 115.5,618.0 116.2,618.0 116.9,618.1 117.6,618.2 118.3,618.3 119.0,618.4 119.6,618.4 120.3,618.5 121.0,618.6 121.7,618.7 122.4,618.7 123.1,618.8 123.8,618.9 124.5,619.0 125.1,619.0 125.8,619.1 126.5,619.2 127.2,619.3 127.9,619.3 128.6,619.4 129.3,619.5 130.0,619.5 130.6,619.6 131.3,619.7 132.0,619.8 132.7,619.8 133.4,619.9 134.1,620.0 134.8,620.1 135.5,620.1 136.1,620.2 136.8,620.3 137.5,620.4 138.2,620.4 138.9,620.5 139.6,620.6 140.3,620.6 141.0,620.7 141.6,620.8 142.3,620.9 143.0,620.9 143.7,621.0 144.4,621.1 145.1,621.1 145.8,621.2 146.5,621.3 147.1,621.4 147.8,621.4 148.5,621.5 149.2,621.6 149.9,621.6 150.6,621.7 151.3,621.8 152.0,621.8 152.6,621.9 153.3,622.0 154.0,622.1 154.7,622.1 155.4,622.2 156.1,622.3 156.8,622.3 157.5,622.4 158.1,622.5 158.8,622.5 159.5,622.6 160.2,622.7 160.9,622.7 161.6,622.8 162.3,622.9 163.0,622.9 163.7,623.0 164.3,623.1 165.0,623.1 165.7,623.2 166.4,623.3 167.1,623.3 167.8,623.4 168.5,623.5 169.2,623.5 169.8,623.6 170.5,623.7 171.2,623.7 171.9,623.8 172.6,623.9 173.3,623.9 174.0,624.0 174.7,624.1 175.4,624.1 176.0,624.2 176.7,624.2 177.4,624.3 178.1,624.4 178.8,624.4 179.5,624.5 180.2,624.6 180.9,624.6 181.5,624.7 182.2,624.7 182.9,624.8 183.6,624.9 184.3,624.9 185.0,625.0 185.7,625.1 186.4,625.1 187.1,625.2 187.7,625.2 188.4,625.3 189.1,625.4 189.8,625.4 190.5,625.5 191.2,625.5 191.9,625.6 192.6,625.7 193.3,625.7 193.9,625.8 194.6,625.8 195.3,625.9 196.0,625.9 196.7,626.0 197.4,626.1 198.1,626.1 198.8,626.2 199.4,626.2 200.1,626.3 200.8,626.3 201.5,626.4 202.2,626.4 202.9,626.5 203.6,626.6 204.3,626.6 205.0,626.7 205.6,626.7 206.3,626.8 207.0,626.8 207.7,626.9 208.4,626.9 209.1,627.0 209.8,627.0 210.5,627.1 211.2,627.2 211.8,627.2 212.5,627.3 213.2,627.3 213.9,627.4 214.6,627.4 215.3,627.5 216.0,627.5 216.7,627.6 217.4,627.6 218.0,627.7 218.7,627.7 219.4,627.8 220.1,627.9 220.8,627.9 221.5,628.0 222.2,628.0 222.9,628.1 223.6,628.1 224.2,628.2 224.9,628.3 225.6,628.3 226.3,628.4 227.0,628.4 227.7,628.5 228.4,628.6 229.1,628.6 229.7,628.7 230.4,628.8 231.1,628.8 231.8,628.9 232.5,629.0 233.2,629.0 233.9,629.1 234.6,629.2 235.2,629.3 235.9,629.3 236.6,629.4 237.3,629.5 238.0,629.6 238.7,629.6 239.4,629.7 240.0,629.8 240.7,629.9 241.4,630.0 242.1,630.1 242.8,630.1 243.5,630.2 244.2,630.3 244.8,630.4 245.5,630.5 246.2,630.6 246.9,630.7 247.6,630.8 248.3,630.9 248.9,631.0 249.6,631.1 250.3,631.2 251.0,631.3 251.7,631.4 252.4,631.5 253.0,631.6 253.7,631.7 254.4,631.9 255.1,632.0 255.8,632.1 256.4,632.2 257.1,632.3 257.8,632.5 258.5,632.6 259.2,632.7 259.9,632.9 260.5,633.0 261.2,633.1 261.9,633.3 262.6,633.4 263.2,633.6 263.9,633.7 264.6,633.8 265.3,634.0 266.0,634.1 266.6,634.3 267.3,634.5 268.0,634.6 268.7,634.8 269.3,634.9 270.0,635.1 270.7,635.3 271.4,635.4 272.0,635.6 272.7,635.8 273.4,636.0 274.0,636.2 274.7,636.3 275.4,636.5 276.0,636.7 276.7,637.0 277.3,637.3 277.8,637.6 278.3,638.1 278.8,638.6 278.8,639.2 278.4,639.9 278.0,640.5 277.5,641.0 277.0,641.6 276.4,642.1 275.9,642.6 275.3,643.1 274.7,643.6 274.1,644.0 273.5,644.5 272.9,644.9 272.3,645.4 271.7,645.8 271.1,646.3 270.4,646.7 269.8,647.1 269.2,647.6 268.6,648.0 268.0,648.5 267.3,648.9 266.7,649.3 266.1,649.8 265.5,650.2 264.9,650.7 264.3,651.1 263.6,651.5 263.0,651.9 262.4,652.4 261.8,652.8 261.1,653.2 260.5,653.6 259.9,654.0 259.2,654.4 258.6,654.8 257.9,655.2 257.3,655.5 256.6,655.9 256.0,656.3 255.3,656.6 254.7,657.0 254.0,657.3 253.3,657.6 252.6,658.0 252.0,658.3 251.3,658.6 250.6,658.9 249.9,659.2 249.2,659.5 248.5,659.8 247.8,660.1 247.1,660.4 246.4,660.7 245.7,661.0 245.0,661.3 244.3,661.5 243.6,661.8 242.9,662.1 242.2,662.3 241.5,662.6 240.8,662.8 240.1,663.1 239.4,663.3 238.7,663.6 237.9,663.8 237.2,664.1 236.5,664.3 235.8,664.6 235.1,664.8 234.4,665.0 233.6,665.3 232.9,665.5 232.2,665.7 231.5,666.0 230.8,666.2 230.0,666.4 229.3,666.6 228.6,666.9 227.9,667.1 227.2,667.3 226.4,667.5 225.7,667.7 225.0,667.9 224.3,668.1 223.5,668.3 222.8,668.5 222.1,668.7 221.3,668.9 220.6,669.1 219.9,669.3 219.2,669.5 218.4,669.7 217.7,669.9 217.0,670.1 216.2,670.3 215.5,670.4 214.8,670.6 214.0,670.8 213.3,671.0 212.6,671.1 211.8,671.3 211.1,671.5 210.4,671.6 209.6,671.8 208.9,671.9 208.2,672.1 207.4,672.2 206.7,672.4 205.9,672.5 205.2,672.7 204.5,672.8 203.7,673.0 203.0,673.1 202.2,673.2 201.5,673.4 200.8,673.5 200.0,673.6 199.3,673.8 198.5,673.9 197.8,674.0 197.0,674.1 196.3,674.2 195.6,674.4 194.8,674.5 194.1,674.6 193.3,674.7 192.6,674.9 191.8,675.0 191.1,675.1 190.4,675.2 189.6,675.4 188.9,675.5 188.1,675.6 187.4,675.8 186.6,675.9 185.9,676.1 185.2,676.2 184.4,676.4 183.7,676.5 183.0,676.7 182.2,676.8 181.5,677.0 180.8,677.2 180.0,677.4 179.3,677.5 178.6,677.7 177.8,677.9 177.1,678.1 176.4,678.3 175.7,678.5 174.9,678.7 174.2,678.9 173.5,679.1 172.8,679.4 172.0,679.6 171.3,679.8 170.6,680.0 169.9,680.3 169.2,680.5 168.4,680.7 167.7,681.0 167.0,681.2 166.3,681.4 165.6,681.7 164.9,681.9 164.2,682.2 163.4,682.4 162.7,682.7 162.0,682.9 161.3,683.2 160.6,683.5 159.9,683.7 159.2,684.0 158.5,684.2 157.7,684.5 157.0,684.7 156.3,685.0 155.6,685.3 154.9,685.5 154.2,685.8 153.5,686.0 152.8,686.3 152.1,686.6 151.4,686.8 150.6,687.1 149.9,687.3 149.2,687.6 148.5,687.9 147.8,688.1 147.1,688.4 146.4,688.6 145.7,688.9 145.0,689.1 144.3,689.4 143.5,689.6 142.8,689.8 142.1,690.1 141.4,690.3 140.7,690.6 140.0,690.8" stroke="#1E9EF5" stroke-width="1.45" fill="none" stroke-linejoin="round" clip-path="url(#c2)" />
<path d="M40.0,604.1 40.7,604.2 41.4,604.3 42.1,604.3 42.9,604.4 43.6,604.5 44.3,604.6 45.0,604.6 45.7,604.7 46.4,604.8 47.1,604.9 47.8,605.0 48.5,605.0 49.3,605.1 50.0,605.2 50.7,605.3 51.4,605.4 52.1,605.4 52.8,605.5 53.5,605.6 54.2,605.7 55.0,605.8 55.7,605.8 56.4,605.9 57.1,606.0 57.8,606.1 58.5,606.2 59.2,606.2 59.9,606.3 60.6,606.4 61.4,606.5 62.1,606.6 62.8,606.7 63.5,606.7 64.2,606.8 64.9,606.9 65.6,607.0 66.3,607.1 67.0,607.2 67.7,607.3 68.5,607.3 69.2,607.4 69.9,607.5 70.6,607.6 71.3,607.7 72.0,607.8 72.7,607.9 73.4,607.9 74.1,608.0 74.9,608.1 75.6,608.2 76.3,608.3 77.0,608.4 77.7,608.5 78.4,608.6 79.1,608.6 79.8,608.7 80.5,608.8 81.2,608.9 82.0,609.0 82.7,609.1 83.4,609.2 84.1,609.3 84.8,609.4 85.5,609.5 86.2,609.5 86.9,609.6 87.6,609.7 88.3,609.8 89.0,609.9 89.8,610.0 90.5,610.1 91.2,610.2 91.9,610.3 92.6,610.4 93.3,610.4 94.0,610.5 94.7,610.6 95.4,610.7 96.1,610.8 96.9,610.9 97.6,611.0 98.3,611.1 99.0,611.2 99.7,611.3 100.4,611.4 101.1,611.5 101.8,611.6 102.5,611.6 103.2,611.7 103.9,611.8 104.7,611.9 105.4,612.0 106.1,612.1 106.8,612.2 107.5,612.3 108.2,612.4 108.9,612.5 109.6,612.6 110.3,612.7 111.0,612.8 111.8,612.9 112.5,613.0 113.2,613.0 113.9,613.1 114.6,613.2 115.3,613.3 116.0,613.4 116.7,613.5 117.4,613.6 118.1,613.7 118.8,613.8 119.6,613.9 120.3,614.0 121.0,614.1 121.7,614.2 122.4,614.3 123.1,614.4 123.8,614.5 124.5,614.5 125.2,614.6 125.9,614.7 126.6,614.8 127.4,614.9 128.1,615.0 128.8,615.1 129.5,615.2 130.2,615.3 130.9,615.4 131.6,615.5 132.3,615.6 133.0,615.7 133.7,615.8 134.4,615.9 135.2,616.0 135.9,616.0 136.6,616.1 137.3,616.2 138.0,616.3 138.7,616.4 139.4,616.5 140.1,616.6 140.8,616.7 141.5,616.8 142.2,616.9 143.0,617.0 143.7,617.1 144.4,617.2 145.1,617.3 145.8,617.4 146.5,617.4 147.2,617.5 147.9,617.6 148.6,617.7 149.3,617.8 150.1,617.9 150.8,618.0 151.5,618.1 152.2,618.2 152.9,618.3 153.6,618.4 154.3,618.5 155.0,618.5 155.7,618.6 156.4,618.7 157.1,618.8 157.9,618.9 158.6,619.0 159.3,619.1 160.0,619.2 160.7,619.3 161.4,619.4 162.1,619.5 162.8,619.5 163.5,619.6 164.2,619.7 165.0,619.8 165.7,619.9 166.4,620.0 167.1,620.1 167.8,620.2 168.5,620.3 169.2,620.3 169.9,620.4 170.6,620.5 171.3,620.6 172.1,620.7 172.8,620.8 173.5,620.9 174.2,621.0 174.9,621.0 175.6,621.1 176.3,621.2 177.0,621.3 177.7,621.4 178.4,621.5 179.2,621.6 179.9,621.6 180.6,621.7 181.3,621.8 182.0,621.9 182.7,622.0 183.4,622.1 184.1,622.1 184.8,622.2 185.5,622.3 186.3,622.4 187.0,622.5 187.7,622.6 188.4,622.6 189.1,622.7 189.8,622.8 190.5,622.9 191.2,623.0 191.9,623.1 192.7,623.1 193.4,623.2 194.1,623.3 194.8,623.4 195.5,623.5 196.2,623.5 196.9,623.6 197.6,623.7 198.3,623.8 199.1,623.8 199.8,623.9 200.5,624.0 201.2,624.1 201.9,624.2 202.6,624.2 203.3,624.3 204.0,624.4 204.7,624.5 205.5,624.5 206.2,624.6 206.9,624.7 207.6,624.8 208.3,624.8 209.0,624.9 209.7,625.0 210.4,625.1 211.2,625.1 211.9,625.2 212.6,625.3 213.3,625.3 214.0,625.4 214.7,625.5 215.4,625.6 216.1,625.6 216.8,625.7 217.6,625.8 218.3,625.8 219.0,625.9 219.7,626.0 220.4,626.0 221.1,626.1 221.8,626.2 222.5,626.3 223.3,626.3 224.0,626.4 224.7,626.5 225.4,626.5 226.1,626.6 226.8,626.7 227.5,626.7 228.2,626.8 229.0,626.9 229.7,626.9 230.4,627.0 231.1,627.1 231.8,627.2 232.5,627.2 233.2,627.3 233.9,627.4 234.7,627.4 235.4,627.5 236.1,627.6 236.8,627.7 237.5,627.7 238.2,627.8 238.9,627.9 239.6,627.9 240.4,628.0 241.1,628.1 241.8,628.2 242.5,628.3 243.2,628.3 243.9,628.4 244.6,628.5 245.3,628.6 246.0,628.7 246.7,628.7 247.5,628.8 248.2,628.9 248.9,629.0 249.6,629.1 250.3,629.2 251.0,629.2 251.7,629.3 252.4,629.4 253.1,629.5 253.8,629.6 254.6,629.7 255.3,629.8 256.0,629.9 256.7,630.0 257.4,630.1 258.1,630.2 258.8,630.3 259.5,630.4 260.2,630.5 260.9,630.6 261.6,630.7 262.3,630.8 263.0,630.9 263.7,631.0 264.5,631.2 265.2,631.3 265.9,631.4 266.6,631.5 267.3,631.6 268.0,631.7 268.7,631.9 269.4,632.0 270.1,632.1 270.8,632.2 271.5,632.4 272.2,632.5 272.9,632.6 273.6,632.8 274.3,632.9 275.0,633.1 275.7,633.2 276.4,633.4 277.1,633.6 277.8,633.7 278.5,633.9 279.2,634.1 279.9,634.2 280.6,634.4 281.3,634.6 282.0,634.8 282.7,635.0 283.4,635.3 284.1,635.5 284.8,635.7 285.4,636.1 285.9,636.5 286.4,637.0 286.7,637.6 286.6,638.3 286.1,638.9 285.5,639.5 285.0,640.1 284.4,640.6 283.8,641.1 283.1,641.5 282.5,642.0 281.8,642.4 281.2,642.8 280.5,643.3 279.8,643.7 279.2,644.1 278.5,644.5 277.8,645.0 277.1,645.4 276.4,645.8 275.8,646.2 275.1,646.6 274.4,647.0 273.7,647.4 273.0,647.8 272.3,648.2 271.7,648.6 271.0,648.9 270.3,649.3 269.6,649.7 268.9,650.1 268.2,650.4 267.5,650.8 266.8,651.2 266.1,651.5 265.4,651.9 264.7,652.3 264.0,652.6 263.3,653.0 262.6,653.3 261.9,653.7 261.2,654.0 260.5,654.4 259.8,654.7 259.1,655.0 258.4,655.4 257.6,655.7 256.9,656.0 256.2,656.4 255.5,656.7 254.8,657.0 254.0,657.4 253.3,657.7 252.6,658.0 251.9,658.3 251.1,658.6 250.4,658.9 249.7,659.2 249.0,659.5 248.2,659.8 247.5,660.1 246.8,660.4 246.0,660.7 245.3,661.0 244.5,661.3 243.8,661.6 243.1,661.8 242.3,662.1 241.6,662.4 240.8,662.7 240.1,662.9 239.3,663.2 238.6,663.4 237.8,663.7 237.1,663.9 236.3,664.2 235.6,664.4 234.8,664.7 234.1,664.9 233.3,665.1 232.6,665.3 231.8,665.6 231.1,665.8 230.3,666.0 229.5,666.2 228.8,666.4 228.0,666.6 227.3,666.8 226.5,667.0 225.7,667.2 225.0,667.4 224.2,667.6 223.4,667.8 222.7,668.0 221.9,668.2 221.2,668.4 220.4,668.5 219.6,668.7 218.9,668.9 218.1,669.1 217.3,669.2 216.5,669.4 215.8,669.6 215.0,669.7 214.2,669.9 213.5,670.1 212.7,670.2 211.9,670.4 211.2,670.6 210.4,670.7 209.6,670.9 208.8,671.1 208.1,671.2 207.3,671.4 206.5,671.5 205.8,671.7 205.0,671.8 204.2,672.0 203.4,672.2 202.7,672.3 201.9,672.5 201.1,672.6 200.3,672.8 199.6,673.0 198.8,673.1 198.0,673.3 197.3,673.4 196.5,673.6 195.7,673.8 194.9,673.9 194.2,674.1 193.4,674.2 192.6,674.4 191.9,674.6 191.1,674.7 190.3,674.9 189.6,675.1 188.8,675.3 188.0,675.4 187.3,675.6 186.5,675.8 185.7,676.0 185.0,676.1 184.2,676.3 183.4,676.5 182.7,676.7 181.9,676.9 181.1,677.1 180.4,677.3 179.6,677.5 178.8,677.7 178.1,677.9 177.3,678.1 176.6,678.3 175.8,678.5 175.0,678.7 174.3,678.9 173.5,679.2 172.8,679.4 172.0,679.6 171.3,679.8 170.5,680.1 169.8,680.3 169.0,680.5 168.2,680.8 167.5,681.0 166.7,681.2 166.0,681.5 165.2,681.7 164.5,681.9 163.7,682.2 163.0,682.4 162.2,682.7 161.5,682.9 160.7,683.2 160.0,683.5 159.3,683.7 158.5,684.0 157.8,684.2 157.0,684.5 156.3,684.8 155.5,685.0 154.8,685.3 154.0,685.5 153.3,685.8 152.6,686.1 151.8,686.4 151.1,686.6 150.3,686.9 149.6,687.2 148.9,687.5 148.1,687.7 147.4,688.0 146.6,688.3 145.9,688.6 145.2,688.9 144.4,689.2 143.7,689.5 143.0,689.7 142.2,690.0 141.5,690.3 140.8,690.6 140.0,690.9" stroke="#14F0F0" stroke-width="1.45" fill="none" stroke-linejoin="round" clip-path="url(#c2)" />
<path d="M40.0,597.3 40.7,597.4 41.4,597.4 42.2,597.5 42.9,597.6 43.6,597.7 44.4,597.7 45.1,597.8 45.8,597.9 46.6,598.0 47.3,598.0 48.0,598.1 48.8,598.2 49.5,598.3 50.2,598.4 51.0,598.4 51.7,598.5 52.4,598.6 53.2,598.7 53.9,598.8 54.6,598.9 55.3,598.9 56.1,599.0 56.8,599.1 57.5,599.2 58.3,599.3 59.0,599.4 59.7,599.5 60.5,599.5 61.2,599.6 61.9,599.7 62.7,599.8 63.4,599.9 64.1,600.0 64.8,600.1 65.6,600.2 66.3,600.3 67.0,600.4 67.8,600.5 68.5,600.6 69.2,600.7 69.9,600.7 70.7,600.8 71.4,600.9 72.1,601.0 72.9,601.1 73.6,601.2 74.3,601.3 75.0,601.4 75.8,601.5 76.5,601.6 77.2,601.7 78.0,601.8 78.7,601.9 79.4,602.0 80.1,602.1 80.9,602.2 81.6,602.3 82.3,602.5 83.1,602.6 83.8,602.7 84.5,602.8 85.2,602.9 86.0,603.0 86.7,603.1 87.4,603.2 88.2,603.3 88.9,603.4 89.6,603.5 90.3,603.6 91.1,603.7 91.8,603.8 92.5,604.0 93.2,604.1 94.0,604.2 94.7,604.3 95.4,604.4 96.2,604.5 96.9,604.6 97.6,604.7 98.3,604.8 99.1,605.0 99.8,605.1 100.5,605.2 101.2,605.3 102.0,605.4 102.7,605.5 103.4,605.6 104.1,605.7 104.9,605.9 105.6,606.0 106.3,606.1 107.1,606.2 107.8,606.3 108.5,606.4 109.2,606.6 110.0,606.7 110.7,606.8 111.4,606.9 112.1,607.0 112.9,607.1 113.6,607.3 114.3,607.4 115.0,607.5 115.8,607.6 116.5,607.7 117.2,607.8 117.9,608.0 118.7,608.1 119.4,608.2 120.1,608.3 120.8,608.4 121.6,608.6 122.3,608.7 123.0,608.8 123.7,608.9 124.5,609.0 125.2,609.1 125.9,609.3 126.7,609.4 127.4,609.5 128.1,609.6 128.8,609.7 129.6,609.9 130.3,610.0 131.0,610.1 131.7,610.2 132.5,610.3 133.2,610.5 133.9,610.6 134.6,610.7 135.4,610.8 136.1,610.9 136.8,611.1 137.5,611.2 138.3,611.3 139.0,611.4 139.7,611.5 140.4,611.7 141.2,611.8 141.9,611.9 142.6,612.0 143.3,612.1 144.1,612.3 144.8,612.4 145.5,612.5 146.2,612.6 147.0,612.7 147.7,612.9 148.4,613.0 149.1,613.1 149.9,613.2 150.6,613.3 151.3,613.5 152.0,613.6 152.8,613.7 153.5,613.8 154.2,613.9 155.0,614.0 155.7,614.2 156.4,614.3 157.1,614.4 157.9,614.5 158.6,614.6 159.3,614.8 160.0,614.9 160.8,615.0 161.5,615.1 162.2,615.2 162.9,615.3 163.7,615.5 164.4,615.6 165.1,615.7 165.8,615.8 166.6,615.9 167.3,616.0 168.0,616.1 168.7,616.3 169.5,616.4 170.2,616.5 170.9,616.6 171.7,616.7 172.4,616.8 173.1,616.9 173.8,617.0 174.6,617.2 175.3,617.3 176.0,617.4 176.7,617.5 177.5,617.6 178.2,617.7 178.9,617.8 179.7,617.9 180.4,618.0 181.1,618.2 181.8,618.3 182.6,618.4 183.3,618.5 184.0,618.6 184.7,618.7 185.5,618.8 186.2,618.9 186.9,619.0 187.7,619.1 188.4,619.2 189.1,619.3 189.8,619.4 190.6,619.5 191.3,619.6 192.0,619.7 192.7,619.9 193.5,620.0 194.2,620.1 194.9,620.2 195.7,620.3 196.4,620.4 197.1,620.5 197.8,620.6 198.6,620.7 199.3,620.8 200.0,620.9 200.8,621.0 201.5,621.0 202.2,621.1 202.9,621.2 203.7,621.3 204.4,621.4 205.1,621.5 205.9,621.6 206.6,621.7 207.3,621.8 208.1,621.9 208.8,622.0 209.5,622.1 210.2,622.2 211.0,622.3 211.7,622.4 212.4,622.4 213.2,622.5 213.9,622.6 214.6,622.7 215.4,622.8 216.1,622.9 216.8,623.0 217.5,623.0 218.3,623.1 219.0,623.2 219.7,623.3 220.5,623.4 221.2,623.5 221.9,623.5 222.7,623.6 223.4,623.7 224.1,623.8 224.9,623.9 225.6,623.9 226.3,624.0 227.0,624.1 227.8,624.2 228.5,624.3 229.2,624.3 230.0,624.4 230.7,624.5 231.4,624.6 232.2,624.7 232.9,624.7 233.6,624.8 234.4,624.9 235.1,625.0 235.8,625.0 236.6,625.1 237.3,625.2 238.0,625.3 238.8,625.4 239.5,625.4 240.2,625.5 240.9,625.6 241.7,625.7 242.4,625.8 243.1,625.8 243.9,625.9 244.6,626.0 245.3,626.1 246.1,626.2 246.8,626.2 247.5,626.3 248.3,626.4 249.0,626.5 249.7,626.6 250.4,626.7 251.2,626.7 251.9,626.8 252.6,626.9 253.4,627.0 254.1,627.1 254.8,627.2 255.6,627.3 256.3,627.4 257.0,627.5 257.7,627.5 258.5,627.6 259.2,627.7 259.9,627.8 260.7,627.9 261.4,628.0 262.1,628.1 262.8,628.2 263.6,628.3 264.3,628.4 265.0,628.5 265.8,628.6 266.5,628.7 267.2,628.8 267.9,628.9 268.7,629.0 269.4,629.1 270.1,629.2 270.8,629.3 271.6,629.5 272.3,629.6 273.0,629.7 273.7,629.8 274.5,629.9 275.2,630.1 275.9,630.2 276.6,630.3 277.4,630.4 278.1,630.6 278.8,630.7 279.5,630.9 280.3,631.0 281.0,631.2 281.7,631.3 282.4,631.5 283.1,631.7 283.9,631.8 284.6,632.0 285.3,632.2 286.0,632.4 286.7,632.6 287.5,632.8 288.2,633.0 288.9,633.2 289.6,633.5 290.3,633.7 290.9,634.1 291.5,634.5 292.0,634.9 292.5,635.5 292.9,636.1 292.8,636.9 292.4,637.6 291.9,638.2 291.3,638.8 290.7,639.4 290.1,639.9 289.4,640.4 288.8,640.8 288.1,641.3 287.4,641.7 286.6,642.1 285.9,642.5 285.2,642.9 284.5,643.3 283.7,643.7 283.0,644.1 282.3,644.5 281.5,644.8 280.8,645.2 280.1,645.6 279.3,646.0 278.6,646.3 277.8,646.7 277.1,647.0 276.4,647.4 275.6,647.7 274.9,648.1 274.1,648.4 273.4,648.8 272.7,649.1 271.9,649.5 271.2,649.8 270.4,650.2 269.7,650.5 268.9,650.8 268.2,651.2 267.5,651.5 266.7,651.9 266.0,652.2 265.2,652.5 264.5,652.8 263.7,653.2 263.0,653.5 262.2,653.8 261.5,654.2 260.7,654.5 260.0,654.8 259.2,655.1 258.5,655.5 257.7,655.8 257.0,656.1 256.2,656.4 255.4,656.7 254.7,657.0 253.9,657.4 253.2,657.7 252.4,658.0 251.6,658.3 250.9,658.6 250.1,658.9 249.3,659.2 248.6,659.5 247.8,659.8 247.0,660.1 246.3,660.4 245.5,660.7 244.7,661.0 243.9,661.2 243.2,661.5 242.4,661.8 241.6,662.1 240.8,662.3 240.1,662.6 239.3,662.9 238.5,663.1 237.7,663.4 236.9,663.6 236.1,663.9 235.4,664.1 234.6,664.3 233.8,664.6 233.0,664.8 232.2,665.0 231.4,665.2 230.6,665.5 229.8,665.7 229.1,665.9 228.3,666.1 227.5,666.3 226.7,666.5 225.9,666.7 225.1,666.9 224.3,667.1 223.5,667.3 222.7,667.5 221.9,667.7 221.1,667.9 220.3,668.1 219.5,668.2 218.7,668.4 217.9,668.6 217.1,668.8 216.3,669.0 215.5,669.1 214.7,669.3 213.9,669.5 213.1,669.6 212.3,669.8 211.5,670.0 210.7,670.2 209.9,670.3 209.1,670.5 208.3,670.7 207.5,670.8 206.7,671.0 205.9,671.2 205.1,671.3 204.3,671.5 203.5,671.6 202.7,671.8 201.9,672.0 201.1,672.1 200.3,672.3 199.5,672.5 198.7,672.7 197.9,672.8 197.1,673.0 196.3,673.2 195.5,673.3 194.7,673.5 193.9,673.7 193.1,673.9 192.3,674.0 191.5,674.2 190.7,674.4 189.9,674.6 189.1,674.8 188.3,674.9 187.5,675.1 186.7,675.3 185.9,675.5 185.1,675.7 184.3,675.9 183.5,676.1 182.7,676.3 181.9,676.5 181.1,676.7 180.3,676.9 179.5,677.2 178.7,677.4 178.0,677.6 177.2,677.8 176.4,678.0 175.6,678.3 174.8,678.5 174.0,678.7 173.2,679.0 172.5,679.2 171.7,679.5 170.9,679.7 170.1,680.0 169.3,680.2 168.5,680.5 167.8,680.7 167.0,681.0 166.2,681.2 165.4,681.5 164.6,681.7 163.9,682.0 163.1,682.3 162.3,682.5 161.5,682.8 160.8,683.1 160.0,683.4 159.2,683.6 158.4,683.9 157.7,684.2 156.9,684.5 156.1,684.7 155.4,685.0 154.6,685.3 153.8,685.6 153.0,685.9 152.3,686.2 151.5,686.5 150.7,686.7 150.0,687.0 149.2,687.3 148.4,687.6 147.7,687.9 146.9,688.2 146.1,688.5 145.4,688.8 144.6,689.1 143.8,689.4 143.1,689.7 142.3,690.0 141.5,690.3 140.8,690.6 140.0,690.9" stroke="#14F014" stroke-width="1.45" fill="none" stroke-linejoin="round" clip-path="url(#c2)" />
<path d="M39.9,588.9 40.7,588.9 41.4,589.0 42.2,589.0 42.9,589.1 43.7,589.2 44.4,589.2 45.2,589.3 45.9,589.3 46.7,589.4 47.4,589.5 48.2,589.5 48.9,589.6 49.7,589.7 50.4,589.7 51.2,589.8 51.9,589.9 52.7,590.0 53.4,590.0 54.2,590.1 54.9,590.2 55.7,590.3 56.4,590.3 57.2,590.4 57.9,590.5 58.7,590.6 59.4,590.7 60.2,590.7 60.9,590.8 61.6,590.9 62.4,591.0 63.1,591.1 63.9,591.2 64.6,591.3 65.4,591.4 66.1,591.5 66.9,591.6 67.6,591.7 68.4,591.8 69.1,591.8 69.8,591.9 70.6,592.0 71.3,592.1 72.1,592.2 72.8,592.4 73.6,592.5 74.3,592.6 75.1,592.7 75.8,592.8 76.5,592.9 77.3,593.0 78.0,593.1 78.8,593.2 79.5,593.3 80.3,593.4 81.0,593.5 81.8,593.6 82.5,593.8 83.2,593.9 84.0,594.0 84.7,594.1 85.5,594.2 86.2,594.3 87.0,594.5 87.7,594.6 88.4,594.7 89.2,594.8 89.9,594.9 90.7,595.1 91.4,595.2 92.1,595.3 92.9,595.4 93.6,595.6 94.4,595.7 95.1,595.8 95.9,595.9 96.6,596.1 97.3,596.2 98.1,596.3 98.8,596.5 99.6,596.6 100.3,596.7 101.0,596.9 101.8,597.0 102.5,597.1 103.3,597.2 104.0,597.4 104.7,597.5 105.5,597.7 106.2,597.8 107.0,597.9 107.7,598.1 108.4,598.2 109.2,598.3 109.9,598.5 110.7,598.6 111.4,598.8 112.1,598.9 112.9,599.0 113.6,599.2 114.4,599.3 115.1,599.5 115.8,599.6 116.6,599.7 117.3,599.9 118.0,600.0 118.8,600.2 119.5,600.3 120.3,600.5 121.0,600.6 121.7,600.8 122.5,600.9 123.2,601.1 124.0,601.2 124.7,601.3 125.4,601.5 126.2,601.6 126.9,601.8 127.7,601.9 128.4,602.1 129.1,602.2 129.9,602.4 130.6,602.5 131.3,602.7 132.1,602.8 132.8,603.0 133.6,603.1 134.3,603.3 135.0,603.4 135.8,603.6 136.5,603.7 137.2,603.9 138.0,604.0 138.7,604.2 139.5,604.3 140.2,604.5 140.9,604.7 141.7,604.8 142.4,605.0 143.1,605.1 143.9,605.3 144.6,605.4 145.4,605.6 146.1,605.7 146.8,605.9 147.6,606.0 148.3,606.2 149.0,606.3 149.8,606.5 150.5,606.6 151.3,606.8 152.0,607.0 152.7,607.1 153.5,607.3 154.2,607.4 154.9,607.6 155.7,607.7 156.4,607.9 157.2,608.0 157.9,608.2 158.6,608.3 159.4,608.5 160.1,608.6 160.8,608.8 161.6,609.0 162.3,609.1 163.1,609.3 163.8,609.4 164.5,609.6 165.3,609.7 166.0,609.9 166.7,610.0 167.5,610.2 168.2,610.3 169.0,610.5 169.7,610.6 170.4,610.8 171.2,610.9 171.9,611.1 172.6,611.2 173.4,611.4 174.1,611.5 174.9,611.7 175.6,611.8 176.3,612.0 177.1,612.1 177.8,612.3 178.5,612.4 179.3,612.6 180.0,612.7 180.8,612.9 181.5,613.0 182.2,613.2 183.0,613.3 183.7,613.5 184.5,613.6 185.2,613.8 185.9,613.9 186.7,614.1 187.4,614.2 188.1,614.3 188.9,614.5 189.6,614.6 190.4,614.8 191.1,614.9 191.8,615.1 192.6,615.2 193.3,615.3 194.1,615.5 194.8,615.6 195.5,615.8 196.3,615.9 197.0,616.0 197.7,616.2 198.5,616.3 199.2,616.5 200.0,616.6 200.7,616.7 201.4,616.9 202.2,617.0 202.9,617.1 203.7,617.3 204.4,617.4 205.1,617.5 205.9,617.7 206.6,617.8 207.4,617.9 208.1,618.1 208.8,618.2 209.6,618.3 210.3,618.5 211.1,618.6 211.8,618.7 212.5,618.8 213.3,619.0 214.0,619.1 214.8,619.2 215.5,619.3 216.2,619.5 217.0,619.6 217.7,619.7 218.5,619.8 219.2,619.9 219.9,620.1 220.7,620.2 221.4,620.3 222.2,620.4 222.9,620.5 223.7,620.6 224.4,620.8 225.1,620.9 225.9,621.0 226.6,621.1 227.4,621.2 228.1,621.3 228.8,621.5 229.6,621.6 230.3,621.7 231.1,621.8 231.8,621.9 232.6,622.0 233.3,622.1 234.0,622.2 234.8,622.3 235.5,622.5 236.3,622.6 237.0,622.7 237.8,622.8 238.5,622.9 239.2,623.0 240.0,623.1 240.7,623.2 241.5,623.3 242.2,623.4 243.0,623.5 243.7,623.6 244.4,623.8 245.2,623.9 245.9,624.0 246.7,624.1 247.4,624.2 248.2,624.3 248.9,624.4 249.7,624.5 250.4,624.6 251.1,624.7 251.9,624.8 252.6,624.9 253.4,625.1 254.1,625.2 254.9,625.3 255.6,625.4 256.4,625.5 257.1,625.6 257.8,625.7 258.6,625.8 259.3,625.9 260.1,626.0 260.8,626.1 261.6,626.3 262.3,626.4 263.1,626.5 263.8,626.6 264.6,626.7 265.3,626.8 266.0,626.9 266.8,627.0 267.5,627.1 268.3,627.3 269.0,627.4 269.8,627.5 270.5,627.6 271.3,627.7 272.0,627.8 272.8,628.0 273.5,628.1 274.3,628.2 275.0,628.3 275.8,628.4 276.5,628.5 277.2,628.7 278.0,628.8 278.7,628.9 279.5,629.0 280.2,629.2 281.0,629.3 281.7,629.4 282.5,629.5 283.2,629.7 284.0,629.8 284.7,629.9 285.5,630.1 286.2,630.2 286.9,630.4 287.7,630.6 288.4,630.7 289.1,630.9 289.8,631.1 290.6,631.4 291.3,631.6 292.0,631.9 292.7,632.1 293.4,632.4 294.0,632.7 294.7,633.1 295.4,633.4 296.0,633.8 296.6,634.3 297.0,634.9 297.2,635.6 297.0,636.4 296.5,637.0 295.9,637.6 295.3,638.2 294.6,638.7 293.9,639.2 293.2,639.6 292.5,640.1 291.8,640.5 291.0,640.9 290.3,641.3 289.5,641.7 288.8,642.1 288.0,642.4 287.3,642.8 286.5,643.2 285.7,643.5 285.0,643.9 284.2,644.3 283.4,644.6 282.7,645.0 281.9,645.3 281.1,645.7 280.4,646.0 279.6,646.4 278.9,646.7 278.1,647.1 277.3,647.4 276.6,647.7 275.8,648.1 275.0,648.4 274.3,648.8 273.5,649.1 272.7,649.4 272.0,649.8 271.2,650.1 270.4,650.5 269.7,650.8 268.9,651.1 268.1,651.5 267.4,651.8 266.6,652.1 265.8,652.4 265.1,652.8 264.3,653.1 263.5,653.4 262.7,653.7 262.0,654.1 261.2,654.4 260.4,654.7 259.6,655.0 258.9,655.3 258.1,655.7 257.3,656.0 256.5,656.3 255.7,656.6 255.0,656.9 254.2,657.2 253.4,657.5 252.6,657.8 251.8,658.1 251.0,658.4 250.2,658.7 249.4,659.0 248.7,659.3 247.9,659.6 247.1,659.9 246.3,660.2 245.5,660.4 244.7,660.7 243.9,661.0 243.1,661.3 242.3,661.5 241.5,661.8 240.7,662.1 239.9,662.3 239.1,662.6 238.3,662.8 237.5,663.1 236.7,663.3 235.9,663.6 235.1,663.8 234.3,664.0 233.5,664.3 232.7,664.5 231.8,664.7 231.0,664.9 230.2,665.1 229.4,665.3 228.6,665.6 227.8,665.8 227.0,666.0 226.2,666.2 225.3,666.4 224.5,666.6 223.7,666.8 222.9,666.9 222.1,667.1 221.3,667.3 220.4,667.5 219.6,667.7 218.8,667.9 218.0,668.1 217.2,668.2 216.3,668.4 215.5,668.6 214.7,668.8 213.9,669.0 213.1,669.1 212.2,669.3 211.4,669.5 210.6,669.6 209.8,669.8 209.0,670.0 208.1,670.2 207.3,670.3 206.5,670.5 205.7,670.7 204.8,670.8 204.0,671.0 203.2,671.2 202.4,671.4 201.6,671.5 200.7,671.7 199.9,671.9 199.1,672.1 198.3,672.2 197.5,672.4 196.6,672.6 195.8,672.8 195.0,673.0 194.2,673.1 193.4,673.3 192.6,673.5 191.7,673.7 190.9,673.9 190.1,674.1 189.3,674.3 188.5,674.5 187.7,674.7 186.8,674.9 186.0,675.1 185.2,675.3 184.4,675.5 183.6,675.7 182.8,675.9 182.0,676.1 181.2,676.4 180.4,676.6 179.6,676.8 178.8,677.0 178.0,677.3 177.1,677.5 176.3,677.8 175.5,678.0 174.7,678.2 173.9,678.5 173.1,678.7 172.3,679.0 171.5,679.3 170.7,679.5 169.9,679.8 169.2,680.0 168.4,680.3 167.6,680.6 166.8,680.8 166.0,681.1 165.2,681.4 164.4,681.7 163.6,682.0 162.8,682.2 162.0,682.5 161.2,682.8 160.4,683.1 159.6,683.4 158.9,683.7 158.1,684.0 157.3,684.2 156.5,684.5 155.7,684.8 154.9,685.1 154.1,685.4 153.3,685.7 152.6,686.0 151.8,686.3 151.0,686.6 150.2,686.9 149.4,687.2 148.6,687.5 147.8,687.8 147.1,688.1 146.3,688.5 145.5,688.8 144.7,689.1 143.9,689.4 143.2,689.7 142.4,690.0 141.6,690.3 140.8,690.6 140.0,690.9" stroke="#0A8C14" stroke-width="1.45" fill="none" stroke-linejoin="round" clip-path="url(#c2)" />
<path d="M40.0,573.9 40.8,574.1 41.5,574.3 42.3,574.5 43.0,574.6 43.8,574.8 44.5,575.0 45.3,575.2 46.0,575.4 46.8,575.5 47.5,575.7 48.3,575.9 49.0,576.1 49.8,576.2 50.5,576.4 51.3,576.6 52.0,576.7 52.8,576.9 53.5,577.1 54.3,577.2 55.0,577.4 55.8,577.5 56.6,577.7 57.3,577.8 58.1,578.0 58.8,578.1 59.6,578.3 60.3,578.5 61.1,578.6 61.8,578.7 62.6,578.9 63.4,579.0 64.1,579.2 64.9,579.3 65.6,579.5 66.4,579.6 67.1,579.8 67.9,579.9 68.7,580.0 69.4,580.2 70.2,580.3 70.9,580.4 71.7,580.6 72.4,580.7 73.2,580.9 74.0,581.0 74.7,581.1 75.5,581.3 76.2,581.4 77.0,581.5 77.8,581.6 78.5,581.8 79.3,581.9 80.1,582.0 80.8,582.2 81.6,582.3 82.3,582.4 83.1,582.5 83.9,582.7 84.6,582.8 85.4,582.9 86.1,583.1 86.9,583.2 87.7,583.3 88.4,583.4 89.2,583.6 90.0,583.7 90.7,583.8 91.5,583.9 92.2,584.1 93.0,584.2 93.8,584.3 94.5,584.4 95.3,584.5 96.1,584.7 96.8,584.8 97.6,584.9 98.3,585.0 99.1,585.2 99.9,585.3 100.6,585.4 101.4,585.5 102.2,585.7 102.9,585.8 103.7,585.9 104.4,586.0 105.2,586.2 106.0,586.3 106.7,586.4 107.5,586.6 108.2,586.7 109.0,586.8 109.8,586.9 110.5,587.1 111.3,587.2 112.1,587.3 112.8,587.5 113.6,587.6 114.3,587.7 115.1,587.9 115.9,588.0 116.6,588.1 117.4,588.3 118.1,588.4 118.9,588.5 119.7,588.7 120.4,588.8 121.2,589.0 121.9,589.1 122.7,589.2 123.4,589.4 124.2,589.5 125.0,589.7 125.7,589.8 126.5,590.0 127.2,590.1 128.0,590.2 128.7,590.4 129.5,590.5 130.3,590.7 131.0,590.9 131.8,591.0 132.5,591.2 133.3,591.3 134.0,591.5 134.8,591.6 135.5,591.8 136.3,592.0 137.1,592.1 137.8,592.3 138.6,592.5 139.3,592.6 140.1,592.8 140.8,593.0 141.6,593.1 142.3,593.3 143.1,593.5 143.8,593.7 144.6,593.8 145.3,594.0 146.1,594.2 146.8,594.4 147.6,594.6 148.3,594.7 149.1,594.9 149.8,595.1 150.6,595.3 151.3,595.5 152.0,595.7 152.8,595.9 153.5,596.1 154.3,596.3 155.0,596.5 155.8,596.7 156.5,596.9 157.3,597.1 158.0,597.2 158.8,597.4 159.5,597.7 160.2,597.9 161.0,598.1 161.7,598.3 162.5,598.5 163.2,598.7 164.0,598.9 164.7,599.1 165.4,599.3 166.2,599.5 166.9,599.7 167.7,599.9 168.4,600.1 169.2,600.3 169.9,600.6 170.6,600.8 171.4,601.0 172.1,601.2 172.9,601.4 173.6,601.6 174.3,601.8 175.1,602.0 175.8,602.3 176.6,602.5 177.3,602.7 178.0,602.9 178.8,603.1 179.5,603.3 180.3,603.6 181.0,603.8 181.7,604.0 182.5,604.2 183.2,604.4 184.0,604.7 184.7,604.9 185.4,605.1 186.2,605.3 186.9,605.5 187.7,605.8 188.4,606.0 189.1,606.2 189.9,606.4 190.6,606.6 191.4,606.9 192.1,607.1 192.8,607.3 193.6,607.5 194.3,607.7 195.1,607.9 195.8,608.2 196.5,608.4 197.3,608.6 198.0,608.8 198.8,609.0 199.5,609.2 200.2,609.5 201.0,609.7 201.7,609.9 202.5,610.1 203.2,610.3 203.9,610.5 204.7,610.8 205.4,611.0 206.2,611.2 206.9,611.4 207.6,611.6 208.4,611.8 209.1,612.0 209.9,612.2 210.6,612.4 211.3,612.6 212.1,612.9 212.8,613.1 213.6,613.3 214.3,613.5 215.1,613.7 215.8,613.9 216.5,614.1 217.3,614.3 218.0,614.5 218.8,614.7 219.5,614.9 220.3,615.1 221.0,615.3 221.8,615.5 222.5,615.7 223.2,615.9 224.0,616.0 224.7,616.2 225.5,616.4 226.2,616.6 227.0,616.8 227.7,617.0 228.5,617.2 229.2,617.4 230.0,617.5 230.7,617.7 231.5,617.9 232.2,618.1 233.0,618.3 233.7,618.4 234.5,618.6 235.2,618.8 236.0,619.0 236.7,619.1 237.5,619.3 238.2,619.5 239.0,619.6 239.7,619.8 240.5,619.9 241.2,620.1 242.0,620.3 242.7,620.4 243.5,620.6 244.2,620.7 245.0,620.9 245.8,621.0 246.5,621.2 247.3,621.3 248.0,621.5 248.8,621.6 249.5,621.8 250.3,621.9 251.1,622.0 251.8,622.2 252.6,622.3 253.3,622.4 254.1,622.6 254.9,622.7 255.6,622.8 256.4,622.9 257.2,623.1 257.9,623.2 258.7,623.3 259.4,623.4 260.2,623.5 261.0,623.6 261.7,623.8 262.5,623.9 263.3,624.0 264.0,624.1 264.8,624.2 265.6,624.3 266.3,624.4 267.1,624.5 267.9,624.6 268.6,624.7 269.4,624.9 270.2,625.0 270.9,625.1 271.7,625.2 272.4,625.3 273.2,625.4 274.0,625.6 274.7,625.7 275.5,625.8 276.2,626.0 277.0,626.1 277.7,626.2 278.5,626.4 279.3,626.5 280.0,626.7 280.7,626.8 281.5,627.0 282.2,627.2 283.0,627.3 283.7,627.5 284.5,627.7 285.2,627.9 285.9,628.1 286.7,628.3 287.4,628.5 288.1,628.7 288.9,628.9 289.6,629.1 290.4,629.4 291.1,629.6 291.8,629.8 292.6,630.1 293.3,630.3 294.0,630.6 294.8,630.9 295.5,631.1 296.3,631.4 297.0,631.7 297.8,632.0 298.5,632.3 299.2,632.6 299.9,633.0 300.5,633.5 300.9,634.1 301.1,634.8 300.9,635.6 300.3,636.2 299.7,636.8 299.0,637.3 298.3,637.8 297.6,638.3 296.9,638.7 296.1,639.1 295.3,639.5 294.5,639.8 293.8,640.2 293.0,640.6 292.2,641.0 291.4,641.3 290.6,641.7 289.8,642.0 289.1,642.4 288.3,642.7 287.5,643.1 286.7,643.5 285.9,643.8 285.1,644.2 284.3,644.5 283.6,644.9 282.8,645.2 282.0,645.6 281.2,645.9 280.4,646.3 279.6,646.6 278.9,647.0 278.1,647.3 277.3,647.7 276.5,648.0 275.7,648.3 274.9,648.7 274.1,649.0 273.4,649.4 272.6,649.7 271.8,650.0 271.0,650.4 270.2,650.7 269.4,651.1 268.6,651.4 267.8,651.7 267.1,652.1 266.3,652.4 265.5,652.7 264.7,653.0 263.9,653.4 263.1,653.7 262.3,654.0 261.5,654.3 260.7,654.6 259.9,655.0 259.1,655.3 258.3,655.6 257.5,655.9 256.7,656.2 255.9,656.5 255.1,656.8 254.3,657.1 253.5,657.4 252.7,657.7 251.9,658.0 251.0,658.3 250.2,658.6 249.4,658.9 248.6,659.2 247.8,659.5 247.0,659.7 246.2,660.0 245.4,660.3 244.5,660.6 243.7,660.8 242.9,661.1 242.1,661.3 241.3,661.6 240.4,661.9 239.6,662.1 238.8,662.4 238.0,662.6 237.1,662.8 236.3,663.1 235.5,663.3 234.7,663.5 233.8,663.8 233.0,664.0 232.2,664.2 231.3,664.4 230.5,664.6 229.7,664.8 228.8,665.1 228.0,665.3 227.2,665.5 226.3,665.7 225.5,665.9 224.7,666.1 223.8,666.3 223.0,666.4 222.2,666.6 221.3,666.8 220.5,667.0 219.6,667.2 218.8,667.4 218.0,667.6 217.1,667.7 216.3,667.9 215.4,668.1 214.6,668.3 213.8,668.5 212.9,668.6 212.1,668.8 211.2,669.0 210.4,669.2 209.6,669.3 208.7,669.5 207.9,669.7 207.0,669.9 206.2,670.0 205.4,670.2 204.5,670.4 203.7,670.6 202.8,670.8 202.0,670.9 201.2,671.1 200.3,671.3 199.5,671.5 198.6,671.7 197.8,671.8 197.0,672.0 196.1,672.2 195.3,672.4 194.5,672.6 193.6,672.8 192.8,673.0 192.0,673.2 191.1,673.4 190.3,673.6 189.5,673.8 188.6,674.0 187.8,674.2 187.0,674.4 186.1,674.6 185.3,674.9 184.5,675.1 183.7,675.3 182.8,675.5 182.0,675.8 181.2,676.0 180.4,676.2 179.5,676.5 178.7,676.7 177.9,677.0 177.1,677.2 176.3,677.5 175.4,677.7 174.6,678.0 173.8,678.3 173.0,678.5 172.2,678.8 171.4,679.1 170.6,679.3 169.7,679.6 168.9,679.9 168.1,680.2 167.3,680.5 166.5,680.8 165.7,681.0 164.9,681.3 164.1,681.6 163.3,681.9 162.5,682.2 161.7,682.5 160.9,682.8 160.1,683.1 159.2,683.4 158.4,683.7 157.6,684.0 156.8,684.3 156.0,684.7 155.2,685.0 154.4,685.3 153.6,685.6 152.8,685.9 152.0,686.2 151.2,686.5 150.4,686.8 149.6,687.1 148.8,687.5 148.0,687.8 147.2,688.1 146.4,688.4 145.6,688.7 144.8,689.0 144.0,689.3 143.2,689.7 142.4,690.0 141.6,690.3 140.8,690.6 140.0,690.9" stroke="#FF8C0A" stroke-width="1.45" fill="none" stroke-linejoin="round" clip-path="url(#c2)" />
<path d="M40.0,553.6 40.8,553.7 41.6,553.8 42.4,554.0 43.1,554.1 43.9,554.2 44.7,554.4 45.5,554.5 46.3,554.7 47.0,554.8 47.8,554.9 48.6,555.1 49.4,555.2 50.2,555.3 50.9,555.5 51.7,555.6 52.5,555.8 53.3,555.9 54.1,556.0 54.8,556.2 55.6,556.3 56.4,556.5 57.2,556.6 58.0,556.8 58.7,556.9 59.5,557.0 60.3,557.2 61.1,557.3 61.8,557.5 62.6,557.6 63.4,557.8 64.2,557.9 65.0,558.1 65.7,558.2 66.5,558.4 67.3,558.5 68.1,558.7 68.9,558.8 69.6,559.0 70.4,559.1 71.2,559.3 72.0,559.4 72.7,559.6 73.5,559.7 74.3,559.9 75.1,560.0 75.9,560.2 76.6,560.4 77.4,560.5 78.2,560.7 79.0,560.8 79.7,561.0 80.5,561.1 81.3,561.3 82.1,561.5 82.9,561.6 83.6,561.8 84.4,562.0 85.2,562.1 86.0,562.3 86.7,562.4 87.5,562.6 88.3,562.8 89.1,562.9 89.8,563.1 90.6,563.3 91.4,563.4 92.2,563.6 92.9,563.8 93.7,564.0 94.5,564.1 95.3,564.3 96.1,564.5 96.8,564.6 97.6,564.8 98.4,565.0 99.1,565.2 99.9,565.3 100.7,565.5 101.5,565.7 102.2,565.9 103.0,566.1 103.8,566.2 104.6,566.4 105.3,566.6 106.1,566.8 106.9,567.0 107.7,567.1 108.4,567.3 109.2,567.5 110.0,567.7 110.7,567.9 111.5,568.1 112.3,568.3 113.1,568.4 113.8,568.6 114.6,568.8 115.4,569.0 116.1,569.2 116.9,569.4 117.7,569.6 118.5,569.8 119.2,570.0 120.0,570.2 120.8,570.4 121.5,570.6 122.3,570.8 123.1,571.0 123.8,571.2 124.6,571.4 125.4,571.6 126.1,571.8 126.9,572.0 127.7,572.2 128.4,572.4 129.2,572.6 130.0,572.8 130.7,573.0 131.5,573.2 132.3,573.4 133.0,573.6 133.8,573.8 134.6,574.1 135.3,574.3 136.1,574.5 136.9,574.7 137.6,574.9 138.4,575.1 139.2,575.4 139.9,575.6 140.7,575.8 141.4,576.0 142.2,576.2 143.0,576.5 143.7,576.7 144.5,576.9 145.2,577.1 146.0,577.3 146.8,577.6 147.5,577.8 148.3,578.0 149.1,578.3 149.8,578.5 150.6,578.7 151.3,579.0 152.1,579.2 152.8,579.4 153.6,579.7 154.4,579.9 155.1,580.1 155.9,580.4 156.6,580.6 157.4,580.9 158.1,581.1 158.9,581.3 159.6,581.6 160.4,581.8 161.2,582.1 161.9,582.3 162.7,582.6 163.4,582.8 164.2,583.1 164.9,583.3 165.7,583.6 166.4,583.8 167.2,584.1 167.9,584.3 168.7,584.6 169.4,584.8 170.2,585.1 170.9,585.4 171.7,585.6 172.4,585.9 173.2,586.1 173.9,586.4 174.7,586.7 175.4,586.9 176.2,587.2 176.9,587.5 177.7,587.7 178.4,588.0 179.2,588.3 179.9,588.6 180.6,588.8 181.4,589.1 182.1,589.4 182.9,589.7 183.6,589.9 184.4,590.2 185.1,590.5 185.8,590.8 186.6,591.1 187.3,591.3 188.1,591.6 188.8,591.9 189.5,592.2 190.3,592.5 191.0,592.8 191.8,593.1 192.5,593.4 193.2,593.7 194.0,594.0 194.7,594.2 195.4,594.5 196.2,594.8 196.9,595.1 197.6,595.4 198.4,595.7 199.1,596.0 199.8,596.4 200.6,596.7 201.3,597.0 202.0,597.3 202.8,597.6 203.5,597.9 204.2,598.2 205.0,598.5 205.7,598.8 206.4,599.2 207.2,599.5 207.9,599.8 208.6,600.1 209.3,600.4 210.1,600.8 210.8,601.1 211.5,601.4 212.2,601.7 213.0,602.1 213.7,602.4 214.4,602.7 215.1,603.0 215.9,603.4 216.6,603.7 217.3,604.0 218.0,604.4 218.7,604.7 219.5,605.1 220.2,605.4 220.9,605.7 221.6,606.1 222.3,606.4 223.1,606.7 223.8,607.1 224.5,607.4 225.2,607.8 225.9,608.1 226.7,608.4 227.4,608.8 228.1,609.1 228.8,609.4 229.5,609.8 230.3,610.1 231.0,610.4 231.7,610.8 232.4,611.1 233.2,611.4 233.9,611.7 234.6,612.1 235.3,612.4 236.1,612.7 236.8,613.0 237.5,613.3 238.2,613.6 239.0,613.9 239.7,614.2 240.4,614.5 241.2,614.8 241.9,615.1 242.6,615.4 243.4,615.7 244.1,616.0 244.9,616.3 245.6,616.5 246.3,616.8 247.1,617.1 247.8,617.3 248.6,617.6 249.3,617.8 250.1,618.1 250.8,618.3 251.6,618.6 252.3,618.8 253.1,619.0 253.8,619.2 254.6,619.4 255.4,619.7 256.1,619.9 256.9,620.1 257.7,620.2 258.4,620.4 259.2,620.6 260.0,620.8 260.8,621.0 261.5,621.1 262.3,621.3 263.1,621.4 263.9,621.6 264.7,621.7 265.4,621.9 266.2,622.0 267.0,622.2 267.8,622.3 268.6,622.5 269.4,622.6 270.2,622.7 270.9,622.9 271.7,623.0 272.5,623.2 273.3,623.3 274.1,623.5 274.9,623.6 275.6,623.7 276.4,623.9 277.2,624.1 278.0,624.2 278.8,624.4 279.5,624.5 280.3,624.7 281.1,624.9 281.9,625.1 282.6,625.2 283.4,625.4 284.2,625.6 284.9,625.8 285.7,626.0 286.5,626.2 287.2,626.5 288.0,626.7 288.7,626.9 289.5,627.2 290.2,627.4 291.0,627.7 291.7,627.9 292.5,628.2 293.2,628.4 294.0,628.7 294.7,629.0 295.5,629.3 296.2,629.6 296.9,629.9 297.7,630.2 298.4,630.6 299.1,630.9 299.9,631.2 300.6,631.6 301.3,632.0 302.0,632.4 302.6,632.9 303.1,633.4 303.5,634.1 303.3,634.8 302.7,635.5 302.1,636.1 301.4,636.6 300.7,637.1 300.0,637.6 299.2,638.0 298.4,638.4 297.7,638.8 296.9,639.2 296.1,639.6 295.3,639.9 294.5,640.3 293.7,640.6 292.9,641.0 292.1,641.3 291.3,641.7 290.5,642.0 289.7,642.4 288.9,642.7 288.1,643.1 287.3,643.4 286.5,643.8 285.7,644.1 284.9,644.5 284.1,644.8 283.3,645.2 282.5,645.5 281.7,645.9 280.9,646.2 280.1,646.6 279.3,646.9 278.5,647.3 277.7,647.6 276.9,648.0 276.1,648.3 275.3,648.7 274.5,649.0 273.7,649.4 272.9,649.7 272.1,650.1 271.3,650.4 270.5,650.7 269.7,651.1 268.9,651.4 268.1,651.8 267.3,652.1 266.5,652.4 265.7,652.8 264.9,653.1 264.1,653.4 263.3,653.7 262.5,654.1 261.6,654.4 260.8,654.7 260.0,655.0 259.2,655.3 258.4,655.6 257.6,655.9 256.8,656.2 255.9,656.5 255.1,656.8 254.3,657.1 253.5,657.4 252.6,657.7 251.8,658.0 251.0,658.2 250.2,658.5 249.3,658.8 248.5,659.1 247.7,659.3 246.8,659.6 246.0,659.9 245.2,660.1 244.3,660.4 243.5,660.6 242.7,660.9 241.8,661.1 241.0,661.4 240.2,661.6 239.3,661.9 238.5,662.1 237.6,662.3 236.8,662.6 235.9,662.8 235.1,663.0 234.3,663.2 233.4,663.5 232.6,663.7 231.7,663.9 230.9,664.1 230.0,664.3 229.2,664.5 228.3,664.7 227.5,664.9 226.6,665.1 225.8,665.3 224.9,665.5 224.1,665.7 223.2,665.9 222.4,666.1 221.5,666.2 220.7,666.4 219.8,666.6 219.0,666.8 218.1,667.0 217.3,667.2 216.4,667.4 215.6,667.5 214.7,667.7 213.9,667.9 213.0,668.1 212.2,668.3 211.3,668.4 210.4,668.6 209.6,668.8 208.7,669.0 207.9,669.2 207.0,669.3 206.2,669.5 205.3,669.7 204.5,669.9 203.6,670.1 202.8,670.3 201.9,670.4 201.1,670.6 200.2,670.8 199.4,671.0 198.5,671.2 197.7,671.4 196.8,671.6 196.0,671.8 195.1,672.0 194.3,672.2 193.5,672.4 192.6,672.6 191.8,672.8 190.9,673.0 190.1,673.2 189.2,673.4 188.4,673.6 187.6,673.9 186.7,674.1 185.9,674.3 185.0,674.5 184.2,674.8 183.4,675.0 182.5,675.3 181.7,675.5 180.9,675.7 180.0,676.0 179.2,676.3 178.4,676.5 177.5,676.8 176.7,677.0 175.9,677.3 175.1,677.6 174.2,677.9 173.4,678.1 172.6,678.4 171.8,678.7 170.9,679.0 170.1,679.3 169.3,679.6 168.5,679.9 167.7,680.2 166.8,680.5 166.0,680.8 165.2,681.1 164.4,681.4 163.6,681.7 162.8,682.0 161.9,682.3 161.1,682.6 160.3,682.9 159.5,683.2 158.7,683.5 157.9,683.9 157.1,684.2 156.2,684.5 155.4,684.8 154.6,685.1 153.8,685.5 153.0,685.8 152.2,686.1 151.4,686.4 150.6,686.7 149.8,687.1 148.9,687.4 148.1,687.7 147.3,688.0 146.5,688.4 145.7,688.7 144.9,689.0 144.1,689.3 143.3,689.6 142.5,690.0 141.7,690.3 140.8,690.6 140.0,690.9" stroke="#FF0A0A" stroke-width="1.45" fill="none" stroke-linejoin="round" clip-path="url(#c2)" />
<path d="M40.0,545.6 40.8,545.7 41.6,545.8 42.4,545.9 43.2,546.0 44.0,546.2 44.9,546.3 45.7,546.4 46.5,546.5 47.3,546.6 48.1,546.7 48.9,546.8 49.7,546.9 50.5,547.0 51.4,547.1 52.2,547.2 53.0,547.3 53.8,547.4 54.6,547.5 55.4,547.6 56.2,547.7 57.0,547.8 57.8,548.0 58.7,548.1 59.5,548.2 60.3,548.3 61.1,548.4 61.9,548.5 62.7,548.6 63.5,548.7 64.3,548.8 65.1,548.9 66.0,549.0 66.8,549.1 67.6,549.2 68.4,549.3 69.2,549.4 70.0,549.5 70.8,549.6 71.6,549.7 72.4,549.8 73.3,549.9 74.1,550.0 74.9,550.1 75.7,550.2 76.5,550.2 77.3,550.3 78.1,550.4 78.9,550.5 79.7,550.6 80.6,550.7 81.4,550.8 82.2,550.9 83.0,551.0 83.8,551.1 84.6,551.2 85.4,551.3 86.2,551.4 87.0,551.5 87.9,551.6 88.7,551.7 89.5,551.8 90.3,551.9 91.1,552.0 91.9,552.1 92.7,552.2 93.5,552.3 94.3,552.4 95.2,552.5 96.0,552.6 96.8,552.7 97.6,552.8 98.4,552.9 99.2,553.0 100.0,553.1 100.8,553.3 101.6,553.4 102.4,553.5 103.3,553.6 104.1,553.7 104.9,553.8 105.7,553.9 106.5,554.0 107.3,554.1 108.1,554.2 108.9,554.3 109.7,554.4 110.5,554.5 111.4,554.6 112.2,554.7 113.0,554.9 113.8,555.0 114.6,555.1 115.4,555.2 116.2,555.3 117.0,555.4 117.8,555.5 118.6,555.7 119.4,555.8 120.3,555.9 121.1,556.0 121.9,556.1 122.7,556.2 123.5,556.4 124.3,556.5 125.1,556.6 125.9,556.7 126.7,556.8 127.5,557.0 128.3,557.1 129.1,557.2 130.0,557.3 130.8,557.5 131.6,557.6 132.4,557.7 133.2,557.8 134.0,558.0 134.8,558.1 135.6,558.2 136.4,558.4 137.2,558.5 138.0,558.6 138.8,558.8 139.6,558.9 140.4,559.0 141.3,559.2 142.1,559.3 142.9,559.5 143.7,559.6 144.5,559.7 145.3,559.9 146.1,560.0 146.9,560.2 147.7,560.3 148.5,560.5 149.3,560.6 150.1,560.8 150.9,560.9 151.7,561.1 152.5,561.2 153.3,561.4 154.1,561.5 154.9,561.7 155.7,561.9 156.6,562.0 157.4,562.2 158.2,562.3 159.0,562.5 159.8,562.7 160.6,562.8 161.4,563.0 162.2,563.2 163.0,563.3 163.8,563.5 164.6,563.7 165.4,563.9 166.2,564.1 167.0,564.2 167.8,564.4 168.6,564.6 169.4,564.8 170.2,565.0 171.0,565.2 171.8,565.3 172.6,565.5 173.4,565.7 174.2,565.9 175.0,566.1 175.8,566.3 176.6,566.6 177.3,566.8 178.1,567.0 178.9,567.2 179.7,567.4 180.5,567.6 181.3,567.8 182.1,568.1 182.9,568.3 183.6,568.5 184.4,568.8 185.2,569.0 186.0,569.3 186.8,569.5 187.5,569.8 188.3,570.0 189.1,570.3 189.9,570.5 190.6,570.8 191.4,571.1 192.2,571.3 192.9,571.6 193.7,571.9 194.5,572.2 195.2,572.5 196.0,572.8 196.7,573.0 197.5,573.3 198.2,573.7 199.0,574.0 199.7,574.3 200.5,574.6 201.2,574.9 202.0,575.3 202.7,575.6 203.4,575.9 204.2,576.3 204.9,576.6 205.6,577.0 206.3,577.3 207.1,577.7 207.8,578.1 208.5,578.4 209.2,578.8 209.9,579.2 210.6,579.6 211.4,580.0 212.1,580.4 212.8,580.8 213.5,581.2 214.2,581.6 214.9,582.1 215.5,582.5 216.2,582.9 216.9,583.4 217.6,583.8 218.3,584.3 219.0,584.7 219.6,585.2 220.3,585.7 221.0,586.1 221.6,586.6 222.3,587.1 223.0,587.6 223.6,588.1 224.3,588.6 224.9,589.1 225.6,589.6 226.2,590.1 226.9,590.6 227.5,591.1 228.1,591.6 228.8,592.2 229.4,592.7 230.1,593.2 230.7,593.7 231.3,594.3 232.0,594.8 232.6,595.4 233.2,595.9 233.8,596.4 234.5,597.0 235.1,597.5 235.7,598.1 236.3,598.6 236.9,599.2 237.5,599.7 238.2,600.3 238.8,600.8 239.4,601.4 240.0,601.9 240.6,602.5 241.2,603.0 241.9,603.5 242.5,604.1 243.1,604.6 243.7,605.1 244.3,605.7 245.0,606.2 245.6,606.7 246.2,607.2 246.9,607.7 247.5,608.2 248.1,608.7 248.8,609.2 249.4,609.7 250.1,610.2 250.8,610.6 251.4,611.1 252.1,611.5 252.8,612.0 253.5,612.4 254.1,612.8 254.8,613.2 255.5,613.6 256.2,614.0 256.9,614.4 257.7,614.8 258.4,615.2 259.1,615.5 259.8,615.9 260.5,616.2 261.3,616.6 262.0,616.9 262.8,617.2 263.5,617.5 264.3,617.8 265.0,618.1 265.8,618.4 266.5,618.7 267.3,619.0 268.1,619.3 268.8,619.5 269.6,619.8 270.4,620.1 271.2,620.3 272.0,620.5 272.8,620.8 273.5,621.0 274.3,621.2 275.1,621.5 275.9,621.7 276.7,621.9 277.5,622.1 278.3,622.3 279.1,622.5 279.9,622.8 280.7,623.0 281.5,623.2 282.3,623.4 283.1,623.6 283.9,623.8 284.7,624.1 285.5,624.3 286.3,624.5 287.1,624.7 287.9,625.0 288.6,625.2 289.4,625.5 290.2,625.7 291.0,626.0 291.8,626.3 292.5,626.5 293.3,626.8 294.1,627.1 294.8,627.4 295.6,627.7 296.3,628.0 297.1,628.4 297.8,628.7 298.5,629.1 299.3,629.4 300.0,629.8 300.7,630.2 301.4,630.6 302.1,631.1 302.8,631.5 303.5,632.0 304.1,632.5 304.6,633.1 305.1,633.7 305.0,634.5 304.4,635.1 303.7,635.8 303.0,636.3 302.3,636.8 301.5,637.3 300.7,637.8 299.9,638.2 299.1,638.6 298.2,639.0 297.4,639.4 296.6,639.8 295.7,640.2 294.9,640.6 294.0,640.9 293.2,641.3 292.3,641.7 291.5,642.1 290.6,642.4 289.8,642.8 288.9,643.1 288.1,643.5 287.2,643.9 286.4,644.2 285.5,644.6 284.7,644.9 283.8,645.3 283.0,645.7 282.1,646.0 281.3,646.4 280.4,646.7 279.6,647.1 278.7,647.4 277.9,647.8 277.0,648.1 276.2,648.5 275.3,648.8 274.5,649.2 273.6,649.6 272.8,649.9 271.9,650.3 271.0,650.6 270.2,651.0 269.3,651.3 268.5,651.6 267.6,652.0 266.8,652.3 265.9,652.7 265.1,653.0 264.2,653.3 263.3,653.7 262.5,654.0 261.6,654.3 260.8,654.6 259.9,655.0 259.0,655.3 258.2,655.6 257.3,655.9 256.4,656.2 255.6,656.5 254.7,656.8 253.8,657.1 253.0,657.4 252.1,657.7 251.2,658.0 250.3,658.3 249.5,658.5 248.6,658.8 247.7,659.1 246.8,659.3 245.9,659.6 245.1,659.9 244.2,660.1 243.3,660.4 242.4,660.6 241.5,660.9 240.6,661.1 239.7,661.4 238.8,661.6 238.0,661.8 237.1,662.1 236.2,662.3 235.3,662.5 234.4,662.8 233.5,663.0 232.6,663.2 231.7,663.4 230.8,663.6 229.9,663.9 229.0,664.1 228.1,664.3 227.2,664.5 226.3,664.7 225.4,664.9 224.5,665.1 223.6,665.3 222.7,665.5 221.8,665.7 220.9,665.9 220.0,666.1 219.1,666.4 218.2,666.6 217.3,666.8 216.4,666.9 215.5,667.1 214.6,667.3 213.7,667.5 212.8,667.7 211.9,667.9 211.0,668.1 210.1,668.3 209.2,668.5 208.3,668.7 207.4,668.9 206.5,669.1 205.6,669.3 204.7,669.5 203.8,669.7 202.9,669.9 202.0,670.1 201.1,670.3 200.2,670.5 199.3,670.7 198.4,670.9 197.5,671.1 196.6,671.3 195.7,671.5 194.8,671.7 193.9,671.9 193.0,672.2 192.1,672.4 191.2,672.6 190.4,672.8 189.5,673.0 188.6,673.2 187.7,673.4 186.8,673.7 185.9,673.9 185.0,674.1 184.1,674.4 183.2,674.6 182.3,674.8 181.5,675.1 180.6,675.3 179.7,675.6 178.8,675.8 177.9,676.1 177.1,676.4 176.2,676.6 175.3,676.9 174.4,677.2 173.6,677.5 172.7,677.8 171.8,678.1 171.0,678.4 170.1,678.7 169.2,679.0 168.4,679.3 167.5,679.7 166.7,680.0 165.8,680.4 165.0,680.7 164.1,681.1 163.3,681.4 162.4,681.8 161.6,682.1 160.7,682.5 159.9,682.9 159.0,683.3 158.2,683.6 157.3,684.0 156.5,684.4 155.6,684.7 154.8,685.1 153.9,685.5 153.1,685.8 152.2,686.2 151.4,686.6 150.5,686.9 149.7,687.3 148.8,687.6 148.0,688.0 147.1,688.3 146.3,688.7 145.4,689.0 144.5,689.3 143.7,689.7 142.8,690.0 141.9,690.3 141.1,690.6 140.2,690.9 139.3,691.2 138.5,691.5 137.6,691.8 136.7,692.1 135.8,692.4 135.0,692.7 134.1,693.0 133.2,693.3 132.4,693.6 131.5,693.9 130.6,694.2 129.8,694.5 128.9,694.8 128.0,695.2 127.2,695.5 126.3,695.8 125.5,696.2 124.6,696.5 123.8,696.9 122.9,697.2 122.1,697.6 121.3,698.0 120.4,698.4 119.6,698.8 118.8,699.2 118.0,699.6 117.1,700.1 116.3,700.5 115.5,700.9 114.7,701.4 113.9,701.8 113.1,702.3 112.3,702.7 111.5,703.2 110.7,703.6 109.9,704.1 109.1,704.5 108.2,705.0 107.4,705.4 106.6,705.9 105.8,706.3 105.0,706.8 104.2,707.2 103.4,707.7 102.6,708.1 101.8,708.6 101.0,709.1 100.2,709.5 99.4,710.0 98.6,710.4 97.8,710.9 97.0,711.3 96.2,711.8 95.4,712.3 94.6,712.7 93.8,713.2 93.0,713.7 92.2,714.1 91.4,714.6 90.7,715.1 89.9,715.5 89.1,716.0 88.3,716.5 87.5,716.9 86.7,717.4 85.9,717.9 85.1,718.4 84.3,718.8 83.6,719.3 82.8,719.8 82.0,720.3 81.2,720.8 80.4,721.3 79.6,721.7 78.9,722.2 78.1,722.7 77.3,723.2 76.5,723.7 75.7,724.2 75.0,724.7 74.2,725.2 73.4,725.7 72.7,726.2 71.9,726.7 71.1,727.2 70.3,727.7 69.6,728.2 68.8,728.7 68.1,729.2 67.3,729.8 66.5,730.3 65.8,730.8 65.0,731.3 64.2,731.8 63.5,732.4 62.7,732.9 62.0,733.4 61.2,734.0 60.5,734.5 59.7,735.0 59.0,735.6 58.2,736.1 57.5,736.7 56.7,737.2 56.0,737.7 55.3,738.3 54.5,738.9 53.8,739.4 53.0,740.0" stroke="#FF00C8" stroke-width="1.45" fill="none" stroke-linejoin="round" clip-path="url(#c2)" />
<text x="196.20" y="12.8" class="tt" text-anchor="middle">Diffusion</text>
<text x="196.20" y="272.9" class="tt" text-anchor="middle">CH<tspan class="sb" dy="3.8">4</tspan></text>
<text x="196.20" y="533.6" class="tt" text-anchor="middle">CH<tspan class="sb" dy="3.8">3</tspan></text>
<text x="196.20" y="244.35" class="lb" text-anchor="middle">Diffusion coefficient (cm<tspan class="sp2" dy="-5.8">2</tspan><tspan dy="5.8"> s</tspan><tspan class="sp2" dy="-5.8">-1</tspan><tspan dy="5.8">)</tspan></text>
<text x="196.50" y="504.80" class="lb" style="font-size:13.05px" text-anchor="middle">Volume Mixing Ratio</text>
<text x="196.50" y="765.80" class="lb" style="font-size:13.05px" text-anchor="middle">Volume Mixing Ratio</text>
<text x="195.30" y="129.80" class="lg" fill="#9410CE" stroke="#9410CE" style="stroke:#9410CE">Model 1</text>
<text x="195.30" y="145.45" class="lg" fill="#0A0AFF" stroke="#0A0AFF" style="stroke:#0A0AFF">Model 2</text>
<text x="195.30" y="161.00" class="lg" fill="#1E9EF5" stroke="#1E9EF5" style="stroke:#1E9EF5">Model 3</text>
<text x="195.30" y="176.60" class="lg" fill="#14F0F0" stroke="#14F0F0" style="stroke:#14F0F0">Model 4</text>
<text x="195.30" y="192.10" class="lg" fill="#14F014" stroke="#14F014" style="stroke:#14F014">Model 5</text>
<text x="273.70" y="129.80" class="lg" fill="#0A8C14" stroke="#0A8C14" style="stroke:#0A8C14">Model 6</text>
<text x="273.70" y="145.45" class="lg" fill="#FF8C0A" stroke="#FF8C0A" style="stroke:#FF8C0A">Model 7</text>
<text x="273.70" y="161.00" class="lg" fill="#FF0A0A" stroke="#FF0A0A" style="stroke:#FF0A0A">Model 8</text>
<text x="273.70" y="176.60" class="lg" fill="#FF00C8" stroke="#FF00C8" style="stroke:#FF00C8">Model 9</text>
</svg>
</body></html>
